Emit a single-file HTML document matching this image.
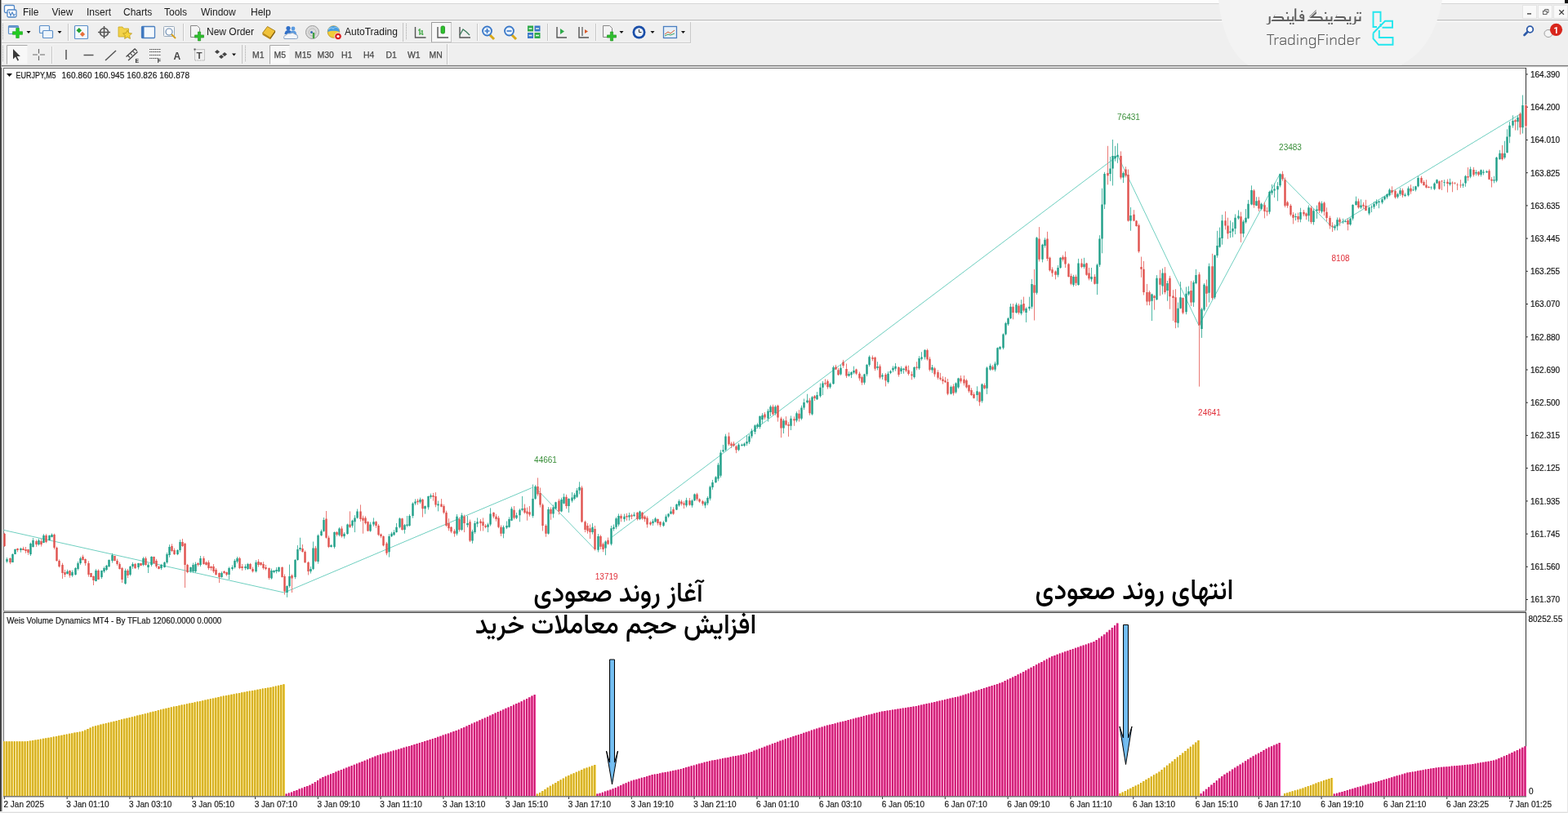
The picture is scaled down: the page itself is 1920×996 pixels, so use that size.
<!DOCTYPE html>
<html><head><meta charset="utf-8"><title>EURJPY,M5</title>
<style>
html,body{margin:0;padding:0;width:1920px;height:996px;overflow:hidden;background:#efefef}
svg{position:absolute;left:0;top:0;display:block}
.fa{position:absolute;font-family:Vazirmatn, 'DejaVu Sans', sans-serif;font-weight:520;color:#000;white-space:nowrap;direction:rtl;line-height:1}
</style></head><body>
<svg width="1920" height="996" viewBox="0 0 1920 996" font-family="'Liberation Sans', Arial, sans-serif">
<rect x="0" y="0" width="1920" height="4" fill="#fdfdfd"/>
<rect x="0" y="4" width="1920" height="1" fill="#d6d6d6"/>
<rect x="0" y="5" width="1920" height="19" fill="#efefef"/>
<rect x="0" y="24" width="1920" height="1" fill="#c3c3c3"/>
<rect x="0" y="25" width="1920" height="1" fill="#e6e6e6"/>
<rect x="0" y="26" width="1920" height="1" fill="#fbfbfb"/>
<rect x="0" y="27" width="1920" height="53" fill="#efefef"/>
<rect x="2" y="52" width="844" height="1" fill="#cbcbcb"/>
<rect x="2" y="53" width="844" height="1" fill="#fafafa"/>
<rect x="845" y="27" width="1" height="25" fill="#c9c9c9"/>
<rect x="547" y="54" width="1" height="25" fill="#c4c4c4"/>
<rect x="548" y="54" width="1" height="25" fill="#fafafa"/>
<rect x="493" y="28" width="1" height="23" fill="#c4c4c4"/>
<rect x="296" y="55" width="1" height="23" fill="#c4c4c4"/>
<rect x="3" y="29" width="1" height="1" fill="#a8a8a8"/>
<rect x="3" y="31" width="1" height="1" fill="#a8a8a8"/>
<rect x="3" y="33" width="1" height="1" fill="#a8a8a8"/>
<rect x="3" y="35" width="1" height="1" fill="#a8a8a8"/>
<rect x="3" y="37" width="1" height="1" fill="#a8a8a8"/>
<rect x="3" y="39" width="1" height="1" fill="#a8a8a8"/>
<rect x="3" y="41" width="1" height="1" fill="#a8a8a8"/>
<rect x="3" y="43" width="1" height="1" fill="#a8a8a8"/>
<rect x="3" y="45" width="1" height="1" fill="#a8a8a8"/>
<rect x="3" y="47" width="1" height="1" fill="#a8a8a8"/>
<rect x="497" y="29" width="1" height="1" fill="#a8a8a8"/>
<rect x="497" y="31" width="1" height="1" fill="#a8a8a8"/>
<rect x="497" y="33" width="1" height="1" fill="#a8a8a8"/>
<rect x="497" y="35" width="1" height="1" fill="#a8a8a8"/>
<rect x="497" y="37" width="1" height="1" fill="#a8a8a8"/>
<rect x="497" y="39" width="1" height="1" fill="#a8a8a8"/>
<rect x="497" y="41" width="1" height="1" fill="#a8a8a8"/>
<rect x="497" y="43" width="1" height="1" fill="#a8a8a8"/>
<rect x="497" y="45" width="1" height="1" fill="#a8a8a8"/>
<rect x="497" y="47" width="1" height="1" fill="#a8a8a8"/>
<rect x="3" y="56" width="1" height="1" fill="#a8a8a8"/>
<rect x="3" y="58" width="1" height="1" fill="#a8a8a8"/>
<rect x="3" y="60" width="1" height="1" fill="#a8a8a8"/>
<rect x="3" y="62" width="1" height="1" fill="#a8a8a8"/>
<rect x="3" y="64" width="1" height="1" fill="#a8a8a8"/>
<rect x="3" y="66" width="1" height="1" fill="#a8a8a8"/>
<rect x="3" y="68" width="1" height="1" fill="#a8a8a8"/>
<rect x="3" y="70" width="1" height="1" fill="#a8a8a8"/>
<rect x="3" y="72" width="1" height="1" fill="#a8a8a8"/>
<rect x="3" y="74" width="1" height="1" fill="#a8a8a8"/>
<rect x="300" y="56" width="1" height="1" fill="#a8a8a8"/>
<rect x="300" y="58" width="1" height="1" fill="#a8a8a8"/>
<rect x="300" y="60" width="1" height="1" fill="#a8a8a8"/>
<rect x="300" y="62" width="1" height="1" fill="#a8a8a8"/>
<rect x="300" y="64" width="1" height="1" fill="#a8a8a8"/>
<rect x="300" y="66" width="1" height="1" fill="#a8a8a8"/>
<rect x="300" y="68" width="1" height="1" fill="#a8a8a8"/>
<rect x="300" y="70" width="1" height="1" fill="#a8a8a8"/>
<rect x="300" y="72" width="1" height="1" fill="#a8a8a8"/>
<rect x="300" y="74" width="1" height="1" fill="#a8a8a8"/>
<rect x="0" y="79" width="1920" height="1" fill="#e4e4e4"/>
<rect x="0" y="80" width="1920" height="1" fill="#7c7c7c"/>
<rect x="0" y="81" width="1920" height="1" fill="#c4c4c4"/>
<rect x="0" y="82" width="1920" height="1" fill="#f6f6f6"/>
<rect x="0" y="0" width="1" height="996" fill="#2e2e2e"/>
<rect x="1" y="0" width="1" height="83" fill="#9a9a9a"/>
<rect x="1" y="83" width="1" height="913" fill="#6a6a6a"/>
<rect x="2" y="83" width="1" height="913" fill="#b4b4b4"/>
<rect x="3" y="83" width="1917" height="912" fill="#fff"/>
<rect x="4" y="83" width="1865" height="1" fill="#6a6a6a"/>
<rect x="4" y="83" width="1" height="893" fill="#6a6a6a"/>
<rect x="1868" y="83" width="1" height="893" fill="#333"/>
<rect x="4" y="748" width="1865" height="2" fill="#a2a2a2"/>
<rect x="4" y="750" width="1865" height="1" fill="#4e4e4e"/>
<rect x="4" y="975" width="1865" height="1" fill="#7a7a7a"/>
<rect x="4" y="976" width="1865" height="1" fill="#c8c8c8"/>
<rect x="0" y="994" width="1920" height="1" fill="#f2f2f2"/>
<rect x="0" y="995" width="1920" height="1" fill="#dedede"/>
<rect x="1919" y="83" width="1" height="913" fill="#e6e6e6"/>
<text x="28" y="18.7" font-size="12" fill="#1a1a1a">File</text>
<text x="63.5" y="18.7" font-size="12" fill="#1a1a1a">View</text>
<text x="106" y="18.7" font-size="12" fill="#1a1a1a">Insert</text>
<text x="151" y="18.7" font-size="12" fill="#1a1a1a">Charts</text>
<text x="201" y="18.7" font-size="12" fill="#1a1a1a">Tools</text>
<text x="246" y="18.7" font-size="12" fill="#1a1a1a">Window</text>
<text x="307" y="18.7" font-size="12" fill="#1a1a1a">Help</text>
<rect x="5.5" y="6.5" width="12" height="9" rx="1.5" fill="#fff" stroke="#4f86c6" stroke-width="1.3"/>
<rect x="9" y="12" width="11" height="9" rx="1.5" fill="#fff" stroke="#4f86c6" stroke-width="1.3"/>
<path d="M11 14 l2 5 l2 -4 l2 4 l1.5 -2" stroke="#4f86c6" stroke-width="1.2" fill="none"/>
<rect x="10.5" y="31.5" width="12" height="10" rx="1" fill="#eef5fc" stroke="#5b8fc9" stroke-width="1.2"/>
<rect x="11" y="32" width="11" height="2" fill="#6a9ad0"/>
<path d="M19.7 34.5 h3.6 v4.2 h4.2 v3.6 h-4.2 v4.2 h-3.6 v-4.2 h-4.2 v-3.6 h4.2 z" fill="#22cc22" stroke="#149a14" stroke-width="0.6"/>
<path d="M32.5 38.0 h5 l-2.5 3 z" fill="#111"/>
<rect x="48.5" y="31.5" width="12" height="9" rx="1" fill="#eef5fc" stroke="#5b8fc9" stroke-width="1.2"/>
<rect x="52.5" y="37.5" width="12" height="9" rx="1" fill="#eef5fc" stroke="#5b8fc9" stroke-width="1.2"/>
<path d="M70.5 38.0 h5 l-2.5 3 z" fill="#111"/>
<rect x="83" y="29" width="1" height="21" fill="#c6c6c6"/><rect x="84" y="29" width="1" height="21" fill="#fbfbfb"/>
<rect x="91.5" y="31.5" width="16" height="16" rx="1" fill="#f4f8fc" stroke="#5b8fc9" stroke-width="1.2"/>
<path d="M96.8 34 l3.3 3.3 l-3.3 3.3 l-3.3 -3.3 z" fill="#22a030"/>
<path d="M101 38.8 l3.1 3.1 l-3.1 3.1 l-3.1 -3.1 z" fill="#e8703a"/>
<circle cx="127.5" cy="39.5" r="5" fill="none" stroke="#555" stroke-width="1.6"/>
<path d="M127.5 32 v15 M120 39.5 h15" stroke="#555" stroke-width="1.6"/>
<path d="M145 33 h5 l1.5 2 h6 v10 h-12.5 z" fill="#f2d24a" stroke="#c9a81e" stroke-width="0.8"/>
<path d="M156 37 l1.7 3.5 l3.8 .5 l-2.8 2.6 l.7 3.8 l-3.4 -1.9 l-3.4 1.9 l.7 -3.8 l-2.8 -2.6 l3.8 -.5 z" fill="#f5d33a" stroke="#b8961a" stroke-width="0.8"/>
<rect x="173.5" y="32.5" width="16" height="14" rx="1" fill="#f4f8fc" stroke="#4a7fc0" stroke-width="1.3"/>
<rect x="173.5" y="32.5" width="3" height="14" fill="#3f78c0"/>
<rect x="200.5" y="32.5" width="13" height="12" rx="1" fill="#f6f8fa" stroke="#9aaabb" stroke-width="1"/>
<circle cx="207" cy="39" r="4" fill="#fff" stroke="#6a8ab0" stroke-width="1.2"/>
<path d="M210 42 l5 5" stroke="#d4a020" stroke-width="2"/>
<rect x="224" y="29" width="1" height="21" fill="#c6c6c6"/><rect x="225" y="29" width="1" height="21" fill="#fbfbfb"/>
<path d="M233.5 31.5 h8 l3 3 v11 h-11 z" fill="#f4f4f4" stroke="#888" stroke-width="1"/>
<path d="M242.4 39.0 h3.2 v3.9 h3.9 v3.2 h-3.9 v3.9 h-3.2 v-3.9 h-3.9 v-3.2 h3.9 z" fill="#2fbf2f" stroke="#1a8a1a" stroke-width="0.6"/>
<text x="253" y="43.3" font-size="12" fill="#1a1a1a">New Order</text>
<path d="M321.5 40.5 l6 -8 l9.5 5.5 l-6 8.5 z" fill="#f0c23a" stroke="#a07810" stroke-width="0.9"/>
<path d="M321.5 40.5 l9.5 5.5 v2.2 l-9.5 -5.5 z" fill="#b8881a"/><path d="M331 46 l6 -8.5 v2.2 l-6 8.5 z" fill="#8a6410"/>
<circle cx="353" cy="34.5" r="2.6" fill="#2f6fc8"/><path d="M348.5 42 q0 -5 4.5 -5 q4.5 0 4.5 5 z" fill="#2f6fc8"/>
<circle cx="359" cy="35" r="2.4" fill="#5a9ae0"/><path d="M355 42 q0 -4.5 4 -4.5 q4 0 4 4.5 z" fill="#5a9ae0"/>
<path d="M348 47.5 q-1.5 -4 2.5 -4.5 q1 -3 5 -2 q3 -2 6 1 q3.5 0 3 4 q0 1.5 -2 1.5 z" fill="#f4f6f9" stroke="#8aa4c4" stroke-width="1"/>
<circle cx="382.5" cy="39.5" r="8" fill="#dcdcdc" stroke="#9a9a9a" stroke-width="1"/>
<circle cx="382.5" cy="39.5" r="4.5" fill="none" stroke="#b8b8b8" stroke-width="1"/>
<path d="M384 40 v7" stroke="#40a040" stroke-width="2.4"/>
<circle cx="381.5" cy="39.5" r="1.5" fill="#3a6ab0"/>
<circle cx="408.5" cy="39" r="7.3" fill="#f0cc3a" stroke="#b89020" stroke-width="0.8"/>
<path d="M401.2 39 a7.3 7.3 0 0 1 14.6 0 q-7.3 -2.5 -14.6 0 z" fill="#4a9ee0"/>
<path d="M402 36 q3 -3 6 -1 q3 -3 7 0" stroke="#8cc8f0" stroke-width="1.2" fill="none"/>
<circle cx="414" cy="44.5" r="4.3" fill="#d82020" stroke="#fff" stroke-width="0.8"/><circle cx="414" cy="44.5" r="1.6" fill="#fff"/>
<text x="422" y="43.3" font-size="12" fill="#1a1a1a">AutoTrading</text>
<path d="M508.5 33 v13 h13" stroke="#555" stroke-width="1.4" fill="none"/>
<path d="M514 35 v8 M512 37 h2 M514 41 h2 M517 37 v6 M515.5 38 h1.5 M517 42 h1.5" stroke="#2aa030" stroke-width="1.2"/>
<rect x="528.5" y="27.5" width="24" height="24" fill="#f7f7f7" stroke="#c8c8c8" stroke-width="1"/>
<path d="M528.5 51.5 v-24 h24" stroke="#9a9a9a" stroke-width="1" fill="none"/>
<path d="M536 33 v13 h13" stroke="#555" stroke-width="1.4" fill="none"/>
<rect x="540" y="32" width="4.5" height="9" rx="1.5" fill="#2ec02e" stroke="#1a8a1a" stroke-width="0.8"/>
<path d="M563 33 v13 h13" stroke="#555" stroke-width="1.4" fill="none"/>
<path d="M563 43 l4 -7 l4 3 l4 4" stroke="#3a7a5a" stroke-width="1.3" fill="none"/>
<rect x="584" y="29" width="1" height="21" fill="#c6c6c6"/><rect x="585" y="29" width="1" height="21" fill="#fbfbfb"/>
<path d="M599.5 42.5 l5.5 5.5" stroke="#d8a818" stroke-width="3"/>
<circle cx="596.5" cy="38.0" r="5.5" fill="#e8f2fc" stroke="#3a78c8" stroke-width="1.8"/>
<path d="M593.5 38.0 h6 M596.5 35.0 v6" stroke="#3a78c8" stroke-width="1.6"/>
<path d="M626.5 42.5 l5.5 5.5" stroke="#d8a818" stroke-width="3"/>
<circle cx="623.5" cy="38.0" r="5.5" fill="#e8f2fc" stroke="#3a78c8" stroke-width="1.8"/>
<path d="M620.5 38.0 h6" stroke="#3a78c8" stroke-width="1.6"/>
<rect x="646" y="31.5" width="7" height="7" fill="#2eaa4a"/><rect x="654.5" y="31.5" width="7" height="7" fill="#3a78c8"/>
<rect x="646" y="40" width="7" height="7" fill="#3a78c8"/><rect x="654.5" y="40" width="7" height="7" fill="#2eaa4a"/>
<path d="M647.5 35 h4 M656 35 h4 M647.5 43.5 h4 M656 43.5 h4" stroke="#e8f4e8" stroke-width="1.4"/>
<rect x="670" y="29" width="1" height="21" fill="#c6c6c6"/><rect x="671" y="29" width="1" height="21" fill="#fbfbfb"/>
<path d="M682 33 v13 h12" stroke="#555" stroke-width="1.4" fill="none"/>
<path d="M686 35 l5 3.5 l-5 3.5 z" fill="#2eaa4a"/>
<path d="M709 33 v13 h12" stroke="#555" stroke-width="1.4" fill="none"/>
<path d="M713 33 v11" stroke="#555" stroke-width="1.2"/><path d="M716 36 l4 2.5 l-4 2.5 z" fill="#d85a2a"/>
<rect x="729" y="29" width="1" height="21" fill="#c6c6c6"/><rect x="730" y="29" width="1" height="21" fill="#fbfbfb"/>
<path d="M738.5 31.5 h8 l3 3 v11 h-11 z" fill="#f4f4f4" stroke="#888" stroke-width="1"/>
<path d="M747.4 39.0 h3.2 v3.9 h3.9 v3.2 h-3.9 v3.9 h-3.2 v-3.9 h-3.9 v-3.2 h3.9 z" fill="#2fbf2f" stroke="#1a8a1a" stroke-width="0.6"/>
<path d="M758.5 38.0 h5 l-2.5 3 z" fill="#111"/>
<circle cx="782.5" cy="39.5" r="8" fill="#1a4ea8"/><circle cx="782.5" cy="39.5" r="5.3" fill="#eef4fb"/>
<path d="M782.5 36 v3.5 h3" stroke="#333" stroke-width="1" fill="none"/>
<path d="M796.5 38.0 h5 l-2.5 3 z" fill="#111"/>
<rect x="812.5" y="32.5" width="16" height="14" fill="#e8f0f8" stroke="#4a7fc0" stroke-width="1.3"/>
<path d="M814 42 l4 -3 l3 2 l5 -4" stroke="#d85a2a" stroke-width="1" fill="none"/><path d="M814 44 l4 -2 l3 1 l5 -2" stroke="#3aa05a" stroke-width="1" fill="none"/>
<path d="M834.0 38.0 h5 l-2.5 3 z" fill="#111"/>
<rect x="8.5" y="55.5" width="25" height="23" fill="#f8f8f8"/>
<path d="M8.5 78.5 v-23 h25" stroke="#a8a8a8" stroke-width="1" fill="none"/>
<path d="M16 60 v12.5 l3 -3 l2.5 5 l1.6 -.8 l-2.4 -4.8 h4.2 z" fill="#3a3a3a"/>
<path d="M47.5 60 v14 M40 67 h15" stroke="#6a6a6a" stroke-width="1.2"/>
<rect x="46" y="65.5" width="3" height="3" fill="#efefef"/>
<rect x="63" y="57" width="1" height="21" fill="#c6c6c6"/><rect x="64" y="57" width="1" height="21" fill="#fbfbfb"/>
<path d="M81 61 v12" stroke="#555" stroke-width="1.5"/>
<path d="M102.5 67.5 h12" stroke="#555" stroke-width="1.5"/>
<path d="M129 74 l13 -12" stroke="#555" stroke-width="1.5"/>
<path d="M154.5 69.5 l11 -10 M157 74 l11.5 -10.5" stroke="#444" stroke-width="1.3"/>
<path d="M156.5 68 l2.5 2.5 M159.5 65.3 l2.5 2.5 M162.5 62.6 l2.5 2.5 M165.2 60 l2.5 2.5" stroke="#444" stroke-width="1.1"/>
<text x="165.6" y="76.8" font-size="6.8" font-weight="bold" fill="#333">E</text>
<path d="M183 60.5 h14 M183 63.5 h14 M183 67.5 h14 M183 71.5 h11" stroke="#555" stroke-width="1" stroke-dasharray="1.2 .5"/>
<text x="192.8" y="76.6" font-size="6.8" font-weight="bold" fill="#333">F</text>
<text x="212.5" y="72.5" font-size="12" font-weight="bold" fill="#444">A</text>
<rect x="238.5" y="60.5" width="12" height="13.5" fill="none" stroke="#999" stroke-width="1" stroke-dasharray="1 1"/>
<rect x="237.5" y="59.5" width="2" height="2" fill="#555"/>
<text x="240.6" y="72" font-size="11.5" font-weight="bold" fill="#4a4a4a">T</text>
<path d="M266 61 l3 2.5 l-3 2.5 l-3 -2.5 z M271 67 l3 2.5 l-3 2.5 l-3 -2.5 z M275 64 l3 2.5 l-3 2.5 l-3 -2.5 z" fill="#444"/>
<path d="M284.0 65.5 h5 l-2.5 3 z" fill="#111"/>
<rect x="330.5" y="55.5" width="24" height="23" fill="#f8f8f8"/>
<path d="M330.5 78.5 v-23 h24" stroke="#a8a8a8" stroke-width="1" fill="none"/>
<text x="309" y="71.3" font-size="10.4" fill="#4a4a4a" stroke="#4a4a4a" stroke-width="0.25">M1</text>
<text x="335.5" y="71.3" font-size="10.4" fill="#4a4a4a" stroke="#4a4a4a" stroke-width="0.25">M5</text>
<text x="361" y="71.3" font-size="10.4" fill="#4a4a4a" stroke="#4a4a4a" stroke-width="0.25">M15</text>
<text x="388.5" y="71.3" font-size="10.4" fill="#4a4a4a" stroke="#4a4a4a" stroke-width="0.25">M30</text>
<text x="418" y="71.3" font-size="10.4" fill="#4a4a4a" stroke="#4a4a4a" stroke-width="0.25">H1</text>
<text x="445" y="71.3" font-size="10.4" fill="#4a4a4a" stroke="#4a4a4a" stroke-width="0.25">H4</text>
<text x="472.5" y="71.3" font-size="10.4" fill="#4a4a4a" stroke="#4a4a4a" stroke-width="0.25">D1</text>
<text x="499" y="71.3" font-size="10.4" fill="#4a4a4a" stroke="#4a4a4a" stroke-width="0.25">W1</text>
<text x="525.5" y="71.3" font-size="10.4" fill="#4a4a4a" stroke="#4a4a4a" stroke-width="0.25">MN</text>
<path d="M1492 0 L1766 0 C1760 32 1748 62 1716 79.5 L1528 79.5 C1507 66 1496 36 1492 0 Z" fill="#f3f3f3"/>
<text x="1550.5" y="54.8" font-size="17.5" fill="#5a5a5a" font-family="'Chakra Petch', 'Liberation Sans', sans-serif" font-weight="300" textLength="115.5" lengthAdjust="spacingAndGlyphs">TradingFinder</text>
<g fill="none" stroke="#22e6ee" stroke-width="1.9" stroke-linejoin="miter"><path d="M1690.5 27 V14.8 H1681.5 V33 H1686"/><path d="M1690.5 33 V29"/><path d="M1681.5 40.5 L1696 25.8 H1705 V33.8 H1692.5"/><path d="M1681.5 40.5 V47.5 L1688 54.8 H1705.5 V46 H1688.8 V37"/></g>
<rect x="1864.5" y="6.5" width="17" height="16" fill="#f9f9f9" stroke="#e4e4e4" stroke-width="1"/>
<rect x="1883.5" y="6.5" width="17" height="16" fill="#f9f9f9" stroke="#e4e4e4" stroke-width="1"/>
<rect x="1902.5" y="6.5" width="17" height="16" fill="#f9f9f9" stroke="#e4e4e4" stroke-width="1"/>
<rect x="1870" y="16.2" width="5" height="1.4" fill="#444"/>
<rect x="1889.5" y="13.5" width="4.5" height="4" fill="none" stroke="#555" stroke-width="0.9"/>
<path d="M1891.5 13 v-1.5 h4.5 v4 h-2" fill="none" stroke="#555" stroke-width="0.9"/>
<path d="M1909.3 12.3 l5.6 5.6 M1914.9 12.3 l-5.6 5.6" stroke="#404040" stroke-width="1.3"/>
<rect x="1916" y="0" width="4" height="4" fill="#111"/>
<circle cx="1873.5" cy="36" r="3.8" fill="#fff" stroke="#2d5aa8" stroke-width="1.8"/>
<path d="M1870.5 39 l-4 4" stroke="#2d5aa8" stroke-width="2.6" stroke-linecap="round"/>
<ellipse cx="1896" cy="41" rx="5" ry="4.5" fill="#f4f4f4" stroke="#a0a0a0" stroke-width="1"/>
<circle cx="1905.5" cy="36.3" r="7.6" fill="#d8261c"/>
<text x="1905.5" y="40.6" font-size="11" font-weight="bold" fill="#fff" text-anchor="middle" font-family="Roboto, 'Open Sans', 'Liberation Sans', sans-serif">1</text>
<rect x="1869" y="90.5" width="2" height="1" fill="#333"/>
<text x="1874" y="94.8" font-size="10" fill="#161616" stroke="#161616" stroke-width="0.18">164.390</text>
<rect x="1869" y="130.7" width="2" height="1" fill="#333"/>
<text x="1874" y="135.0" font-size="10" fill="#161616" stroke="#161616" stroke-width="0.18">164.200</text>
<rect x="1869" y="170.9" width="2" height="1" fill="#333"/>
<text x="1874" y="175.2" font-size="10" fill="#161616" stroke="#161616" stroke-width="0.18">164.010</text>
<rect x="1869" y="211.2" width="2" height="1" fill="#333"/>
<text x="1874" y="215.5" font-size="10" fill="#161616" stroke="#161616" stroke-width="0.18">163.825</text>
<rect x="1869" y="251.4" width="2" height="1" fill="#333"/>
<text x="1874" y="255.7" font-size="10" fill="#161616" stroke="#161616" stroke-width="0.18">163.635</text>
<rect x="1869" y="291.6" width="2" height="1" fill="#333"/>
<text x="1874" y="295.9" font-size="10" fill="#161616" stroke="#161616" stroke-width="0.18">163.445</text>
<rect x="1869" y="331.8" width="2" height="1" fill="#333"/>
<text x="1874" y="336.1" font-size="10" fill="#161616" stroke="#161616" stroke-width="0.18">163.255</text>
<rect x="1869" y="372.0" width="2" height="1" fill="#333"/>
<text x="1874" y="376.3" font-size="10" fill="#161616" stroke="#161616" stroke-width="0.18">163.070</text>
<rect x="1869" y="412.3" width="2" height="1" fill="#333"/>
<text x="1874" y="416.6" font-size="10" fill="#161616" stroke="#161616" stroke-width="0.18">162.880</text>
<rect x="1869" y="452.5" width="2" height="1" fill="#333"/>
<text x="1874" y="456.8" font-size="10" fill="#161616" stroke="#161616" stroke-width="0.18">162.690</text>
<rect x="1869" y="492.7" width="2" height="1" fill="#333"/>
<text x="1874" y="497.0" font-size="10" fill="#161616" stroke="#161616" stroke-width="0.18">162.500</text>
<rect x="1869" y="532.9" width="2" height="1" fill="#333"/>
<text x="1874" y="537.2" font-size="10" fill="#161616" stroke="#161616" stroke-width="0.18">162.315</text>
<rect x="1869" y="573.1" width="2" height="1" fill="#333"/>
<text x="1874" y="577.4" font-size="10" fill="#161616" stroke="#161616" stroke-width="0.18">162.125</text>
<rect x="1869" y="613.4" width="2" height="1" fill="#333"/>
<text x="1874" y="617.7" font-size="10" fill="#161616" stroke="#161616" stroke-width="0.18">161.935</text>
<rect x="1869" y="653.6" width="2" height="1" fill="#333"/>
<text x="1874" y="657.9" font-size="10" fill="#161616" stroke="#161616" stroke-width="0.18">161.745</text>
<rect x="1869" y="693.8" width="2" height="1" fill="#333"/>
<text x="1874" y="698.1" font-size="10" fill="#161616" stroke="#161616" stroke-width="0.18">161.560</text>
<rect x="1869" y="734.0" width="2" height="1" fill="#333"/>
<text x="1874" y="738.3" font-size="10" fill="#161616" stroke="#161616" stroke-width="0.18">161.370</text>
<text x="1871.5" y="762.2" font-size="10" fill="#161616" stroke="#161616" stroke-width="0.18">80252.55</text>
<text x="1872" y="973" font-size="10" fill="#161616" stroke="#161616" stroke-width="0.18">0</text>
<rect x="4.8" y="976" width="1" height="3" fill="#333"/>
<text x="4.5" y="988.6" font-size="10" fill="#1a1a1a" stroke="#1a1a1a" stroke-width="0.18">2 Jan 2025</text>
<rect x="81.6" y="976" width="1" height="3" fill="#333"/>
<text x="81.3" y="988.6" font-size="10" fill="#1a1a1a" stroke="#1a1a1a" stroke-width="0.18">3 Jan 01:10</text>
<rect x="158.4" y="976" width="1" height="3" fill="#333"/>
<text x="158.1" y="988.6" font-size="10" fill="#1a1a1a" stroke="#1a1a1a" stroke-width="0.18">3 Jan 03:10</text>
<rect x="235.2" y="976" width="1" height="3" fill="#333"/>
<text x="234.9" y="988.6" font-size="10" fill="#1a1a1a" stroke="#1a1a1a" stroke-width="0.18">3 Jan 05:10</text>
<rect x="312.0" y="976" width="1" height="3" fill="#333"/>
<text x="311.7" y="988.6" font-size="10" fill="#1a1a1a" stroke="#1a1a1a" stroke-width="0.18">3 Jan 07:10</text>
<rect x="388.8" y="976" width="1" height="3" fill="#333"/>
<text x="388.5" y="988.6" font-size="10" fill="#1a1a1a" stroke="#1a1a1a" stroke-width="0.18">3 Jan 09:10</text>
<rect x="465.6" y="976" width="1" height="3" fill="#333"/>
<text x="465.3" y="988.6" font-size="10" fill="#1a1a1a" stroke="#1a1a1a" stroke-width="0.18">3 Jan 11:10</text>
<rect x="542.4" y="976" width="1" height="3" fill="#333"/>
<text x="542.1" y="988.6" font-size="10" fill="#1a1a1a" stroke="#1a1a1a" stroke-width="0.18">3 Jan 13:10</text>
<rect x="619.2" y="976" width="1" height="3" fill="#333"/>
<text x="618.9" y="988.6" font-size="10" fill="#1a1a1a" stroke="#1a1a1a" stroke-width="0.18">3 Jan 15:10</text>
<rect x="696.0" y="976" width="1" height="3" fill="#333"/>
<text x="695.7" y="988.6" font-size="10" fill="#1a1a1a" stroke="#1a1a1a" stroke-width="0.18">3 Jan 17:10</text>
<rect x="772.8" y="976" width="1" height="3" fill="#333"/>
<text x="772.5" y="988.6" font-size="10" fill="#1a1a1a" stroke="#1a1a1a" stroke-width="0.18">3 Jan 19:10</text>
<rect x="849.6" y="976" width="1" height="3" fill="#333"/>
<text x="849.3" y="988.6" font-size="10" fill="#1a1a1a" stroke="#1a1a1a" stroke-width="0.18">3 Jan 21:10</text>
<rect x="926.4" y="976" width="1" height="3" fill="#333"/>
<text x="926.1" y="988.6" font-size="10" fill="#1a1a1a" stroke="#1a1a1a" stroke-width="0.18">6 Jan 01:10</text>
<rect x="1003.2" y="976" width="1" height="3" fill="#333"/>
<text x="1002.9" y="988.6" font-size="10" fill="#1a1a1a" stroke="#1a1a1a" stroke-width="0.18">6 Jan 03:10</text>
<rect x="1080.0" y="976" width="1" height="3" fill="#333"/>
<text x="1079.7" y="988.6" font-size="10" fill="#1a1a1a" stroke="#1a1a1a" stroke-width="0.18">6 Jan 05:10</text>
<rect x="1156.8" y="976" width="1" height="3" fill="#333"/>
<text x="1156.5" y="988.6" font-size="10" fill="#1a1a1a" stroke="#1a1a1a" stroke-width="0.18">6 Jan 07:10</text>
<rect x="1233.6" y="976" width="1" height="3" fill="#333"/>
<text x="1233.3" y="988.6" font-size="10" fill="#1a1a1a" stroke="#1a1a1a" stroke-width="0.18">6 Jan 09:10</text>
<rect x="1310.4" y="976" width="1" height="3" fill="#333"/>
<text x="1310.1" y="988.6" font-size="10" fill="#1a1a1a" stroke="#1a1a1a" stroke-width="0.18">6 Jan 11:10</text>
<rect x="1387.2" y="976" width="1" height="3" fill="#333"/>
<text x="1386.9" y="988.6" font-size="10" fill="#1a1a1a" stroke="#1a1a1a" stroke-width="0.18">6 Jan 13:10</text>
<rect x="1464.0" y="976" width="1" height="3" fill="#333"/>
<text x="1463.7" y="988.6" font-size="10" fill="#1a1a1a" stroke="#1a1a1a" stroke-width="0.18">6 Jan 15:10</text>
<rect x="1540.8" y="976" width="1" height="3" fill="#333"/>
<text x="1540.5" y="988.6" font-size="10" fill="#1a1a1a" stroke="#1a1a1a" stroke-width="0.18">6 Jan 17:10</text>
<rect x="1617.6" y="976" width="1" height="3" fill="#333"/>
<text x="1617.3" y="988.6" font-size="10" fill="#1a1a1a" stroke="#1a1a1a" stroke-width="0.18">6 Jan 19:10</text>
<rect x="1694.4" y="976" width="1" height="3" fill="#333"/>
<text x="1694.1" y="988.6" font-size="10" fill="#1a1a1a" stroke="#1a1a1a" stroke-width="0.18">6 Jan 21:10</text>
<rect x="1771.2" y="976" width="1" height="3" fill="#333"/>
<text x="1770.9" y="988.6" font-size="10" fill="#1a1a1a" stroke="#1a1a1a" stroke-width="0.18">6 Jan 23:25</text>
<rect x="1848.0" y="976" width="1" height="3" fill="#333"/>
<text x="1847.7" y="988.6" font-size="10" fill="#1a1a1a" stroke="#1a1a1a" stroke-width="0.18">7 Jan 01:25</text>
<path d="M8 90 h7 l-3.5 4 z" fill="#111"/>
<text x="19.6" y="95.5" font-size="10" fill="#161616" stroke="#161616" stroke-width="0.18" textLength="49" lengthAdjust="spacingAndGlyphs">EURJPY,M5</text>
<text x="75.6" y="95.5" font-size="10" fill="#161616" stroke="#161616" stroke-width="0.18" textLength="156.5" lengthAdjust="spacing">160.860 160.945 160.826 160.878</text>
<text x="8.3" y="763.5" font-size="10" fill="#161616" stroke="#161616" stroke-width="0.18" textLength="263" lengthAdjust="spacingAndGlyphs">Weis Volume Dynamics MT4 - By TFLab 12060.0000 0.0000</text>
<path d="M4.05 908.3h2.5v67.0h-2.5zM7.25 908.3h2.5v67.0h-2.5zM10.45 908.3h2.5v67.0h-2.5zM13.65 908.3h2.5v67.0h-2.5zM16.85 908.3h2.5v67.0h-2.5zM20.05 908.3h2.5v67.0h-2.5zM23.25 908.3h2.5v67.0h-2.5zM26.45 908.3h2.5v67.0h-2.5zM29.65 908.3h2.5v67.0h-2.5zM32.85 908.1h2.5v67.2h-2.5zM36.05 907.6h2.5v67.7h-2.5zM39.25 907.0h2.5v68.3h-2.5zM42.45 906.5h2.5v68.8h-2.5zM45.65 905.9h2.5v69.4h-2.5zM48.85 905.4h2.5v69.9h-2.5zM52.05 904.8h2.5v70.5h-2.5zM55.25 904.3h2.5v71.0h-2.5zM58.45 903.7h2.5v71.6h-2.5zM61.65 903.2h2.5v72.1h-2.5zM64.85 902.6h2.5v72.7h-2.5zM68.05 902.0h2.5v73.3h-2.5zM71.25 901.3h2.5v74.0h-2.5zM74.45 900.7h2.5v74.6h-2.5zM77.65 900.1h2.5v75.2h-2.5zM80.85 899.5h2.5v75.8h-2.5zM84.05 898.8h2.5v76.5h-2.5zM87.25 898.2h2.5v77.1h-2.5zM90.45 897.6h2.5v77.7h-2.5zM93.65 897.0h2.5v78.3h-2.5zM96.85 896.4h2.5v78.9h-2.5zM100.05 895.7h2.5v79.6h-2.5zM103.25 894.6h2.5v80.7h-2.5zM106.45 893.0h2.5v82.3h-2.5zM109.65 891.4h2.5v83.9h-2.5zM112.85 890.0h2.5v85.3h-2.5zM116.05 889.2h2.5v86.1h-2.5zM119.25 888.4h2.5v86.9h-2.5zM122.45 887.6h2.5v87.7h-2.5zM125.65 886.8h2.5v88.5h-2.5zM128.85 886.1h2.5v89.2h-2.5zM132.05 885.3h2.5v90.0h-2.5zM135.25 884.5h2.5v90.8h-2.5zM138.45 883.7h2.5v91.6h-2.5zM141.65 882.9h2.5v92.4h-2.5zM144.85 882.1h2.5v93.2h-2.5zM148.05 881.3h2.5v94.0h-2.5zM151.25 880.5h2.5v94.8h-2.5zM154.45 879.7h2.5v95.6h-2.5zM157.65 878.9h2.5v96.4h-2.5zM160.85 878.2h2.5v97.1h-2.5zM164.05 877.4h2.5v97.9h-2.5zM167.25 876.6h2.5v98.7h-2.5zM170.45 875.8h2.5v99.5h-2.5zM173.65 875.0h2.5v100.3h-2.5zM176.85 874.2h2.5v101.1h-2.5zM180.05 873.4h2.5v101.9h-2.5zM183.25 872.6h2.5v102.7h-2.5zM186.45 871.8h2.5v103.5h-2.5zM189.65 870.9h2.5v104.4h-2.5zM192.85 870.1h2.5v105.2h-2.5zM196.05 869.3h2.5v106.0h-2.5zM199.25 868.5h2.5v106.8h-2.5zM202.45 867.7h2.5v107.6h-2.5zM205.65 866.9h2.5v108.4h-2.5zM208.85 866.2h2.5v109.1h-2.5zM212.05 865.6h2.5v109.7h-2.5zM215.25 864.9h2.5v110.4h-2.5zM218.45 864.3h2.5v111.0h-2.5zM221.65 863.6h2.5v111.7h-2.5zM224.85 862.9h2.5v112.4h-2.5zM228.05 862.3h2.5v113.0h-2.5zM231.25 861.6h2.5v113.7h-2.5zM234.45 860.9h2.5v114.4h-2.5zM237.65 860.3h2.5v115.0h-2.5zM240.85 859.6h2.5v115.7h-2.5zM244.05 858.9h2.5v116.4h-2.5zM247.25 858.2h2.5v117.1h-2.5zM250.45 857.5h2.5v117.8h-2.5zM253.65 856.8h2.5v118.5h-2.5zM256.85 856.1h2.5v119.2h-2.5zM260.05 855.4h2.5v119.9h-2.5zM263.25 854.7h2.5v120.6h-2.5zM266.45 854.0h2.5v121.3h-2.5zM269.65 853.3h2.5v122.0h-2.5zM272.85 852.6h2.5v122.7h-2.5zM276.05 852.0h2.5v123.3h-2.5zM279.25 851.4h2.5v123.9h-2.5zM282.45 850.8h2.5v124.5h-2.5zM285.65 850.2h2.5v125.1h-2.5zM288.85 849.5h2.5v125.8h-2.5zM292.05 848.9h2.5v126.4h-2.5zM295.25 848.3h2.5v127.0h-2.5zM298.45 847.7h2.5v127.6h-2.5zM301.65 847.1h2.5v128.2h-2.5zM304.85 846.5h2.5v128.8h-2.5zM308.05 846.0h2.5v129.3h-2.5zM311.25 845.4h2.5v129.9h-2.5zM314.45 844.8h2.5v130.5h-2.5zM317.65 844.2h2.5v131.1h-2.5zM320.85 843.6h2.5v131.7h-2.5zM324.05 843.1h2.5v132.2h-2.5zM327.25 842.5h2.5v132.8h-2.5zM330.45 841.9h2.5v133.4h-2.5zM333.65 841.3h2.5v134.0h-2.5zM336.85 840.5h2.5v134.8h-2.5zM340.05 839.8h2.5v135.5h-2.5zM343.25 839.1h2.5v136.2h-2.5zM346.45 838.3h2.5v137.0h-2.5zM656.85 972.5h2.5v2.8h-2.5zM660.05 971.0h2.5v4.3h-2.5zM663.25 968.9h2.5v6.4h-2.5zM666.45 966.9h2.5v8.4h-2.5zM669.65 964.8h2.5v10.5h-2.5zM672.85 962.8h2.5v12.5h-2.5zM676.05 960.8h2.5v14.5h-2.5zM679.25 958.9h2.5v16.4h-2.5zM682.45 957.1h2.5v18.2h-2.5zM685.65 955.3h2.5v20.0h-2.5zM688.85 953.4h2.5v21.9h-2.5zM692.05 951.6h2.5v23.7h-2.5zM695.25 950.0h2.5v25.3h-2.5zM698.45 948.6h2.5v26.7h-2.5zM701.65 947.2h2.5v28.1h-2.5zM704.85 945.8h2.5v29.5h-2.5zM708.05 944.4h2.5v30.9h-2.5zM711.25 943.0h2.5v32.3h-2.5zM714.45 941.6h2.5v33.7h-2.5zM717.65 940.5h2.5v34.8h-2.5zM720.85 939.4h2.5v35.9h-2.5zM724.05 938.3h2.5v37.0h-2.5zM727.25 937.1h2.5v38.2h-2.5zM1370.45 972.1h2.5v3.2h-2.5zM1373.65 970.5h2.5v4.8h-2.5zM1376.85 968.9h2.5v6.4h-2.5zM1380.05 967.3h2.5v8.0h-2.5zM1383.25 965.7h2.5v9.6h-2.5zM1386.45 964.1h2.5v11.2h-2.5zM1389.65 962.5h2.5v12.8h-2.5zM1392.85 960.9h2.5v14.4h-2.5zM1396.05 958.9h2.5v16.4h-2.5zM1399.25 957.0h2.5v18.3h-2.5zM1402.45 955.1h2.5v20.2h-2.5zM1405.65 953.2h2.5v22.1h-2.5zM1408.85 951.2h2.5v24.1h-2.5zM1412.05 949.3h2.5v26.0h-2.5zM1415.25 947.4h2.5v27.9h-2.5zM1418.45 945.4h2.5v29.9h-2.5zM1421.65 942.9h2.5v32.4h-2.5zM1424.85 940.3h2.5v35.0h-2.5zM1428.05 937.8h2.5v37.5h-2.5zM1431.25 935.2h2.5v40.1h-2.5zM1434.45 932.7h2.5v42.6h-2.5zM1437.65 930.1h2.5v45.2h-2.5zM1440.85 927.6h2.5v47.7h-2.5zM1444.05 925.0h2.5v50.3h-2.5zM1447.25 922.4h2.5v52.9h-2.5zM1450.45 919.9h2.5v55.4h-2.5zM1453.65 917.3h2.5v58.0h-2.5zM1456.85 914.7h2.5v60.6h-2.5zM1460.05 912.2h2.5v63.1h-2.5zM1463.25 909.6h2.5v65.7h-2.5zM1466.45 907.1h2.5v68.2h-2.5zM1572.05 972.1h2.5v3.2h-2.5zM1575.25 971.2h2.5v4.1h-2.5zM1578.45 970.2h2.5v5.1h-2.5zM1581.65 969.3h2.5v6.0h-2.5zM1584.85 968.3h2.5v7.0h-2.5zM1588.05 967.4h2.5v7.9h-2.5zM1591.25 966.4h2.5v8.9h-2.5zM1594.45 965.4h2.5v9.9h-2.5zM1597.65 964.2h2.5v11.1h-2.5zM1600.85 963.0h2.5v12.3h-2.5zM1604.05 961.9h2.5v13.4h-2.5zM1607.25 960.7h2.5v14.6h-2.5zM1610.45 959.5h2.5v15.8h-2.5zM1613.65 958.3h2.5v17.0h-2.5zM1616.85 957.2h2.5v18.1h-2.5zM1620.05 956.1h2.5v19.2h-2.5zM1623.25 955.1h2.5v20.2h-2.5zM1626.45 954.0h2.5v21.3h-2.5zM1629.65 952.9h2.5v22.4h-2.5z" fill="#f2cf44"/>
<path d="M4.05 908.3h1.3v67.0h-1.3zM7.25 908.3h1.3v67.0h-1.3zM10.45 908.3h1.3v67.0h-1.3zM13.65 908.3h1.3v67.0h-1.3zM16.85 908.3h1.3v67.0h-1.3zM20.05 908.3h1.3v67.0h-1.3zM23.25 908.3h1.3v67.0h-1.3zM26.45 908.3h1.3v67.0h-1.3zM29.65 908.3h1.3v67.0h-1.3zM32.85 908.1h1.3v67.2h-1.3zM36.05 907.6h1.3v67.7h-1.3zM39.25 907.0h1.3v68.3h-1.3zM42.45 906.5h1.3v68.8h-1.3zM45.65 905.9h1.3v69.4h-1.3zM48.85 905.4h1.3v69.9h-1.3zM52.05 904.8h1.3v70.5h-1.3zM55.25 904.3h1.3v71.0h-1.3zM58.45 903.7h1.3v71.6h-1.3zM61.65 903.2h1.3v72.1h-1.3zM64.85 902.6h1.3v72.7h-1.3zM68.05 902.0h1.3v73.3h-1.3zM71.25 901.3h1.3v74.0h-1.3zM74.45 900.7h1.3v74.6h-1.3zM77.65 900.1h1.3v75.2h-1.3zM80.85 899.5h1.3v75.8h-1.3zM84.05 898.8h1.3v76.5h-1.3zM87.25 898.2h1.3v77.1h-1.3zM90.45 897.6h1.3v77.7h-1.3zM93.65 897.0h1.3v78.3h-1.3zM96.85 896.4h1.3v78.9h-1.3zM100.05 895.7h1.3v79.6h-1.3zM103.25 894.6h1.3v80.7h-1.3zM106.45 893.0h1.3v82.3h-1.3zM109.65 891.4h1.3v83.9h-1.3zM112.85 890.0h1.3v85.3h-1.3zM116.05 889.2h1.3v86.1h-1.3zM119.25 888.4h1.3v86.9h-1.3zM122.45 887.6h1.3v87.7h-1.3zM125.65 886.8h1.3v88.5h-1.3zM128.85 886.1h1.3v89.2h-1.3zM132.05 885.3h1.3v90.0h-1.3zM135.25 884.5h1.3v90.8h-1.3zM138.45 883.7h1.3v91.6h-1.3zM141.65 882.9h1.3v92.4h-1.3zM144.85 882.1h1.3v93.2h-1.3zM148.05 881.3h1.3v94.0h-1.3zM151.25 880.5h1.3v94.8h-1.3zM154.45 879.7h1.3v95.6h-1.3zM157.65 878.9h1.3v96.4h-1.3zM160.85 878.2h1.3v97.1h-1.3zM164.05 877.4h1.3v97.9h-1.3zM167.25 876.6h1.3v98.7h-1.3zM170.45 875.8h1.3v99.5h-1.3zM173.65 875.0h1.3v100.3h-1.3zM176.85 874.2h1.3v101.1h-1.3zM180.05 873.4h1.3v101.9h-1.3zM183.25 872.6h1.3v102.7h-1.3zM186.45 871.8h1.3v103.5h-1.3zM189.65 870.9h1.3v104.4h-1.3zM192.85 870.1h1.3v105.2h-1.3zM196.05 869.3h1.3v106.0h-1.3zM199.25 868.5h1.3v106.8h-1.3zM202.45 867.7h1.3v107.6h-1.3zM205.65 866.9h1.3v108.4h-1.3zM208.85 866.2h1.3v109.1h-1.3zM212.05 865.6h1.3v109.7h-1.3zM215.25 864.9h1.3v110.4h-1.3zM218.45 864.3h1.3v111.0h-1.3zM221.65 863.6h1.3v111.7h-1.3zM224.85 862.9h1.3v112.4h-1.3zM228.05 862.3h1.3v113.0h-1.3zM231.25 861.6h1.3v113.7h-1.3zM234.45 860.9h1.3v114.4h-1.3zM237.65 860.3h1.3v115.0h-1.3zM240.85 859.6h1.3v115.7h-1.3zM244.05 858.9h1.3v116.4h-1.3zM247.25 858.2h1.3v117.1h-1.3zM250.45 857.5h1.3v117.8h-1.3zM253.65 856.8h1.3v118.5h-1.3zM256.85 856.1h1.3v119.2h-1.3zM260.05 855.4h1.3v119.9h-1.3zM263.25 854.7h1.3v120.6h-1.3zM266.45 854.0h1.3v121.3h-1.3zM269.65 853.3h1.3v122.0h-1.3zM272.85 852.6h1.3v122.7h-1.3zM276.05 852.0h1.3v123.3h-1.3zM279.25 851.4h1.3v123.9h-1.3zM282.45 850.8h1.3v124.5h-1.3zM285.65 850.2h1.3v125.1h-1.3zM288.85 849.5h1.3v125.8h-1.3zM292.05 848.9h1.3v126.4h-1.3zM295.25 848.3h1.3v127.0h-1.3zM298.45 847.7h1.3v127.6h-1.3zM301.65 847.1h1.3v128.2h-1.3zM304.85 846.5h1.3v128.8h-1.3zM308.05 846.0h1.3v129.3h-1.3zM311.25 845.4h1.3v129.9h-1.3zM314.45 844.8h1.3v130.5h-1.3zM317.65 844.2h1.3v131.1h-1.3zM320.85 843.6h1.3v131.7h-1.3zM324.05 843.1h1.3v132.2h-1.3zM327.25 842.5h1.3v132.8h-1.3zM330.45 841.9h1.3v133.4h-1.3zM333.65 841.3h1.3v134.0h-1.3zM336.85 840.5h1.3v134.8h-1.3zM340.05 839.8h1.3v135.5h-1.3zM343.25 839.1h1.3v136.2h-1.3zM346.45 838.3h1.3v137.0h-1.3zM656.85 972.5h1.3v2.8h-1.3zM660.05 971.0h1.3v4.3h-1.3zM663.25 968.9h1.3v6.4h-1.3zM666.45 966.9h1.3v8.4h-1.3zM669.65 964.8h1.3v10.5h-1.3zM672.85 962.8h1.3v12.5h-1.3zM676.05 960.8h1.3v14.5h-1.3zM679.25 958.9h1.3v16.4h-1.3zM682.45 957.1h1.3v18.2h-1.3zM685.65 955.3h1.3v20.0h-1.3zM688.85 953.4h1.3v21.9h-1.3zM692.05 951.6h1.3v23.7h-1.3zM695.25 950.0h1.3v25.3h-1.3zM698.45 948.6h1.3v26.7h-1.3zM701.65 947.2h1.3v28.1h-1.3zM704.85 945.8h1.3v29.5h-1.3zM708.05 944.4h1.3v30.9h-1.3zM711.25 943.0h1.3v32.3h-1.3zM714.45 941.6h1.3v33.7h-1.3zM717.65 940.5h1.3v34.8h-1.3zM720.85 939.4h1.3v35.9h-1.3zM724.05 938.3h1.3v37.0h-1.3zM727.25 937.1h1.3v38.2h-1.3zM1370.45 972.1h1.3v3.2h-1.3zM1373.65 970.5h1.3v4.8h-1.3zM1376.85 968.9h1.3v6.4h-1.3zM1380.05 967.3h1.3v8.0h-1.3zM1383.25 965.7h1.3v9.6h-1.3zM1386.45 964.1h1.3v11.2h-1.3zM1389.65 962.5h1.3v12.8h-1.3zM1392.85 960.9h1.3v14.4h-1.3zM1396.05 958.9h1.3v16.4h-1.3zM1399.25 957.0h1.3v18.3h-1.3zM1402.45 955.1h1.3v20.2h-1.3zM1405.65 953.2h1.3v22.1h-1.3zM1408.85 951.2h1.3v24.1h-1.3zM1412.05 949.3h1.3v26.0h-1.3zM1415.25 947.4h1.3v27.9h-1.3zM1418.45 945.4h1.3v29.9h-1.3zM1421.65 942.9h1.3v32.4h-1.3zM1424.85 940.3h1.3v35.0h-1.3zM1428.05 937.8h1.3v37.5h-1.3zM1431.25 935.2h1.3v40.1h-1.3zM1434.45 932.7h1.3v42.6h-1.3zM1437.65 930.1h1.3v45.2h-1.3zM1440.85 927.6h1.3v47.7h-1.3zM1444.05 925.0h1.3v50.3h-1.3zM1447.25 922.4h1.3v52.9h-1.3zM1450.45 919.9h1.3v55.4h-1.3zM1453.65 917.3h1.3v58.0h-1.3zM1456.85 914.7h1.3v60.6h-1.3zM1460.05 912.2h1.3v63.1h-1.3zM1463.25 909.6h1.3v65.7h-1.3zM1466.45 907.1h1.3v68.2h-1.3zM1572.05 972.1h1.3v3.2h-1.3zM1575.25 971.2h1.3v4.1h-1.3zM1578.45 970.2h1.3v5.1h-1.3zM1581.65 969.3h1.3v6.0h-1.3zM1584.85 968.3h1.3v7.0h-1.3zM1588.05 967.4h1.3v7.9h-1.3zM1591.25 966.4h1.3v8.9h-1.3zM1594.45 965.4h1.3v9.9h-1.3zM1597.65 964.2h1.3v11.1h-1.3zM1600.85 963.0h1.3v12.3h-1.3zM1604.05 961.9h1.3v13.4h-1.3zM1607.25 960.7h1.3v14.6h-1.3zM1610.45 959.5h1.3v15.8h-1.3zM1613.65 958.3h1.3v17.0h-1.3zM1616.85 957.2h1.3v18.1h-1.3zM1620.05 956.1h1.3v19.2h-1.3zM1623.25 955.1h1.3v20.2h-1.3zM1626.45 954.0h1.3v21.3h-1.3zM1629.65 952.9h1.3v22.4h-1.3z" fill="#c9a212"/>
<path d="M349.65 972.5h2.5v2.8h-2.5zM352.85 971.6h2.5v3.7h-2.5zM356.05 970.4h2.5v4.9h-2.5zM359.25 969.1h2.5v6.2h-2.5zM362.45 967.9h2.5v7.4h-2.5zM365.65 966.6h2.5v8.7h-2.5zM368.85 965.4h2.5v9.9h-2.5zM372.05 964.1h2.5v11.2h-2.5zM375.25 962.9h2.5v12.4h-2.5zM378.45 961.7h2.5v13.6h-2.5zM381.65 960.0h2.5v15.3h-2.5zM384.85 958.0h2.5v17.3h-2.5zM388.05 955.9h2.5v19.4h-2.5zM391.25 953.8h2.5v21.5h-2.5zM394.45 952.1h2.5v23.2h-2.5zM397.65 950.8h2.5v24.5h-2.5zM400.85 949.5h2.5v25.8h-2.5zM404.05 948.2h2.5v27.1h-2.5zM407.25 946.9h2.5v28.4h-2.5zM410.45 945.6h2.5v29.7h-2.5zM413.65 944.3h2.5v31.0h-2.5zM416.85 943.0h2.5v32.3h-2.5zM420.05 941.8h2.5v33.5h-2.5zM423.25 940.5h2.5v34.8h-2.5zM426.45 939.3h2.5v36.0h-2.5zM429.65 938.0h2.5v37.3h-2.5zM432.85 936.8h2.5v38.5h-2.5zM436.05 935.5h2.5v39.8h-2.5zM439.25 934.3h2.5v41.0h-2.5zM442.45 933.0h2.5v42.3h-2.5zM445.65 931.7h2.5v43.6h-2.5zM448.85 930.4h2.5v44.9h-2.5zM452.05 929.1h2.5v46.2h-2.5zM455.25 927.8h2.5v47.5h-2.5zM458.45 926.6h2.5v48.7h-2.5zM461.65 925.3h2.5v50.0h-2.5zM464.85 924.3h2.5v51.0h-2.5zM468.05 923.3h2.5v52.0h-2.5zM471.25 922.4h2.5v52.9h-2.5zM474.45 921.5h2.5v53.8h-2.5zM477.65 920.5h2.5v54.8h-2.5zM480.85 919.6h2.5v55.7h-2.5zM484.05 918.7h2.5v56.6h-2.5zM487.25 917.7h2.5v57.6h-2.5zM490.45 916.8h2.5v58.5h-2.5zM493.65 915.8h2.5v59.5h-2.5zM496.85 914.8h2.5v60.5h-2.5zM500.05 913.9h2.5v61.4h-2.5zM503.25 912.9h2.5v62.4h-2.5zM506.45 911.9h2.5v63.4h-2.5zM509.65 910.9h2.5v64.4h-2.5zM512.85 909.9h2.5v65.4h-2.5zM516.05 908.9h2.5v66.4h-2.5zM519.25 907.9h2.5v67.4h-2.5zM522.45 906.9h2.5v68.4h-2.5zM525.65 905.9h2.5v69.4h-2.5zM528.85 904.9h2.5v70.4h-2.5zM532.05 903.9h2.5v71.4h-2.5zM535.25 902.8h2.5v72.5h-2.5zM538.45 901.7h2.5v73.6h-2.5zM541.65 900.6h2.5v74.7h-2.5zM544.85 899.5h2.5v75.8h-2.5zM548.05 898.4h2.5v76.9h-2.5zM551.25 897.2h2.5v78.1h-2.5zM554.45 896.1h2.5v79.2h-2.5zM557.65 895.0h2.5v80.3h-2.5zM560.85 893.8h2.5v81.5h-2.5zM564.05 892.3h2.5v83.0h-2.5zM567.25 890.9h2.5v84.4h-2.5zM570.45 889.5h2.5v85.8h-2.5zM573.65 888.0h2.5v87.3h-2.5zM576.85 886.6h2.5v88.7h-2.5zM580.05 885.1h2.5v90.2h-2.5zM583.25 883.7h2.5v91.6h-2.5zM586.45 882.2h2.5v93.1h-2.5zM589.65 880.8h2.5v94.5h-2.5zM592.85 879.4h2.5v95.9h-2.5zM596.05 877.9h2.5v97.4h-2.5zM599.25 876.5h2.5v98.8h-2.5zM602.45 875.0h2.5v100.3h-2.5zM605.65 873.6h2.5v101.7h-2.5zM608.85 872.1h2.5v103.2h-2.5zM612.05 870.7h2.5v104.6h-2.5zM615.25 869.3h2.5v106.0h-2.5zM618.45 867.8h2.5v107.5h-2.5zM621.65 866.4h2.5v108.9h-2.5zM624.85 865.0h2.5v110.3h-2.5zM628.05 863.5h2.5v111.8h-2.5zM631.25 862.1h2.5v113.2h-2.5zM634.45 860.7h2.5v114.6h-2.5zM637.65 859.2h2.5v116.1h-2.5zM640.85 857.5h2.5v117.8h-2.5zM644.05 855.9h2.5v119.4h-2.5zM647.25 854.3h2.5v121.0h-2.5zM650.45 852.6h2.5v122.7h-2.5zM653.65 851.0h2.5v124.3h-2.5zM730.45 972.5h2.5v2.8h-2.5zM733.65 971.8h2.5v3.5h-2.5zM736.85 970.7h2.5v4.6h-2.5zM740.05 969.6h2.5v5.7h-2.5zM743.25 968.5h2.5v6.8h-2.5zM746.45 967.4h2.5v7.9h-2.5zM749.65 966.3h2.5v9.0h-2.5zM752.85 964.9h2.5v10.4h-2.5zM756.05 963.5h2.5v11.8h-2.5zM759.25 962.1h2.5v13.2h-2.5zM762.45 960.6h2.5v14.7h-2.5zM765.65 959.2h2.5v16.1h-2.5zM768.85 957.8h2.5v17.5h-2.5zM772.05 956.6h2.5v18.7h-2.5zM775.25 955.6h2.5v19.7h-2.5zM778.45 954.7h2.5v20.6h-2.5zM781.65 953.7h2.5v21.6h-2.5zM784.85 952.8h2.5v22.5h-2.5zM788.05 951.9h2.5v23.4h-2.5zM791.25 950.9h2.5v24.4h-2.5zM794.45 950.0h2.5v25.3h-2.5zM797.65 949.1h2.5v26.2h-2.5zM800.85 948.5h2.5v26.8h-2.5zM804.05 947.9h2.5v27.4h-2.5zM807.25 947.2h2.5v28.1h-2.5zM810.45 946.6h2.5v28.7h-2.5zM813.65 946.0h2.5v29.3h-2.5zM816.85 945.4h2.5v29.9h-2.5zM820.05 944.7h2.5v30.6h-2.5zM823.25 944.1h2.5v31.2h-2.5zM826.45 943.5h2.5v31.8h-2.5zM829.65 942.7h2.5v32.6h-2.5zM832.85 941.9h2.5v33.4h-2.5zM836.05 941.0h2.5v34.3h-2.5zM839.25 940.1h2.5v35.2h-2.5zM842.45 939.2h2.5v36.1h-2.5zM845.65 938.3h2.5v37.0h-2.5zM848.85 937.4h2.5v37.9h-2.5zM852.05 936.5h2.5v38.8h-2.5zM855.25 935.6h2.5v39.7h-2.5zM858.45 934.7h2.5v40.6h-2.5zM861.65 933.8h2.5v41.5h-2.5zM864.85 933.0h2.5v42.3h-2.5zM868.05 932.2h2.5v43.0h-2.5zM871.25 931.6h2.5v43.7h-2.5zM874.45 931.0h2.5v44.3h-2.5zM877.65 930.4h2.5v44.9h-2.5zM880.85 929.7h2.5v45.6h-2.5zM884.05 929.1h2.5v46.2h-2.5zM887.25 928.5h2.5v46.8h-2.5zM890.45 927.9h2.5v47.4h-2.5zM893.65 927.2h2.5v48.1h-2.5zM896.85 926.6h2.5v48.7h-2.5zM900.05 926.0h2.5v49.3h-2.5zM903.25 925.4h2.5v49.9h-2.5zM906.45 924.7h2.5v50.6h-2.5zM909.65 924.1h2.5v51.2h-2.5zM912.85 923.3h2.5v52.0h-2.5zM916.05 922.1h2.5v53.2h-2.5zM919.25 920.9h2.5v54.4h-2.5zM922.45 919.6h2.5v55.7h-2.5zM925.65 918.4h2.5v56.9h-2.5zM928.85 917.2h2.5v58.1h-2.5zM932.05 916.0h2.5v59.3h-2.5zM935.25 914.8h2.5v60.5h-2.5zM938.45 913.6h2.5v61.7h-2.5zM941.65 912.4h2.5v62.9h-2.5zM944.85 911.1h2.5v64.2h-2.5zM948.05 909.9h2.5v65.4h-2.5zM951.25 908.7h2.5v66.6h-2.5zM954.45 907.5h2.5v67.8h-2.5zM957.65 906.4h2.5v68.9h-2.5zM960.85 905.3h2.5v70.0h-2.5zM964.05 904.2h2.5v71.1h-2.5zM967.25 903.2h2.5v72.1h-2.5zM970.45 902.1h2.5v73.2h-2.5zM973.65 901.0h2.5v74.3h-2.5zM976.85 900.0h2.5v75.3h-2.5zM980.05 898.9h2.5v76.4h-2.5zM983.25 897.8h2.5v77.5h-2.5zM986.45 896.8h2.5v78.5h-2.5zM989.65 895.7h2.5v79.6h-2.5zM992.85 894.6h2.5v80.7h-2.5zM996.05 893.6h2.5v81.7h-2.5zM999.25 892.5h2.5v82.8h-2.5zM1002.45 891.4h2.5v83.9h-2.5zM1005.65 890.4h2.5v84.9h-2.5zM1008.85 889.5h2.5v85.8h-2.5zM1012.05 888.6h2.5v86.7h-2.5zM1015.25 887.8h2.5v87.5h-2.5zM1018.45 887.0h2.5v88.3h-2.5zM1021.65 886.2h2.5v89.1h-2.5zM1024.85 885.3h2.5v90.0h-2.5zM1028.05 884.5h2.5v90.8h-2.5zM1031.25 883.7h2.5v91.6h-2.5zM1034.45 882.9h2.5v92.4h-2.5zM1037.65 882.1h2.5v93.2h-2.5zM1040.85 881.2h2.5v94.1h-2.5zM1044.05 880.4h2.5v94.9h-2.5zM1047.25 879.6h2.5v95.7h-2.5zM1050.45 878.8h2.5v96.5h-2.5zM1053.65 877.9h2.5v97.4h-2.5zM1056.85 877.1h2.5v98.2h-2.5zM1060.05 876.3h2.5v99.0h-2.5zM1063.25 875.5h2.5v99.8h-2.5zM1066.45 874.7h2.5v100.6h-2.5zM1069.65 873.8h2.5v101.5h-2.5zM1072.85 873.0h2.5v102.3h-2.5zM1076.05 872.2h2.5v103.1h-2.5zM1079.25 871.4h2.5v103.9h-2.5zM1082.45 870.9h2.5v104.4h-2.5zM1085.65 870.4h2.5v104.9h-2.5zM1088.85 869.9h2.5v105.4h-2.5zM1092.05 869.4h2.5v105.9h-2.5zM1095.25 868.9h2.5v106.4h-2.5zM1098.45 868.4h2.5v106.9h-2.5zM1101.65 867.9h2.5v107.4h-2.5zM1104.85 867.4h2.5v107.9h-2.5zM1108.05 866.9h2.5v108.4h-2.5zM1111.25 866.4h2.5v108.9h-2.5zM1114.45 865.9h2.5v109.4h-2.5zM1117.65 865.4h2.5v109.9h-2.5zM1120.85 864.9h2.5v110.4h-2.5zM1124.05 864.3h2.5v111.0h-2.5zM1127.25 863.6h2.5v111.7h-2.5zM1130.45 862.8h2.5v112.5h-2.5zM1133.65 862.1h2.5v113.2h-2.5zM1136.85 861.4h2.5v113.9h-2.5zM1140.05 860.7h2.5v114.6h-2.5zM1143.25 859.9h2.5v115.4h-2.5zM1146.45 859.2h2.5v116.1h-2.5zM1149.65 858.5h2.5v116.8h-2.5zM1152.85 857.8h2.5v117.5h-2.5zM1156.05 857.0h2.5v118.3h-2.5zM1159.25 856.3h2.5v119.0h-2.5zM1162.45 855.6h2.5v119.7h-2.5zM1165.65 854.8h2.5v120.5h-2.5zM1168.85 854.1h2.5v121.2h-2.5zM1172.05 853.4h2.5v121.9h-2.5zM1175.25 852.5h2.5v122.8h-2.5zM1178.45 851.5h2.5v123.8h-2.5zM1181.65 850.4h2.5v124.9h-2.5zM1184.85 849.4h2.5v125.9h-2.5zM1188.05 848.3h2.5v127.0h-2.5zM1191.25 847.3h2.5v128.0h-2.5zM1194.45 846.2h2.5v129.1h-2.5zM1197.65 845.2h2.5v130.1h-2.5zM1200.85 844.1h2.5v131.2h-2.5zM1204.05 843.1h2.5v132.2h-2.5zM1207.25 842.0h2.5v133.3h-2.5zM1210.45 841.0h2.5v134.3h-2.5zM1213.65 840.0h2.5v135.3h-2.5zM1216.85 838.9h2.5v136.4h-2.5zM1220.05 837.9h2.5v137.4h-2.5zM1223.25 836.8h2.5v138.5h-2.5zM1226.45 835.7h2.5v139.6h-2.5zM1229.65 834.1h2.5v141.2h-2.5zM1232.85 832.5h2.5v142.8h-2.5zM1236.05 831.0h2.5v144.3h-2.5zM1239.25 829.4h2.5v145.9h-2.5zM1242.45 827.9h2.5v147.4h-2.5zM1245.65 826.3h2.5v149.0h-2.5zM1248.85 824.7h2.5v150.6h-2.5zM1252.05 823.0h2.5v152.3h-2.5zM1255.25 821.3h2.5v154.0h-2.5zM1258.45 819.5h2.5v155.8h-2.5zM1261.65 817.8h2.5v157.5h-2.5zM1264.85 816.1h2.5v159.2h-2.5zM1268.05 814.3h2.5v161.0h-2.5zM1271.25 812.6h2.5v162.7h-2.5zM1274.45 810.9h2.5v164.4h-2.5zM1277.65 809.2h2.5v166.1h-2.5zM1280.85 807.4h2.5v167.9h-2.5zM1284.05 805.7h2.5v169.6h-2.5zM1287.25 804.0h2.5v171.3h-2.5zM1290.45 802.9h2.5v172.4h-2.5zM1293.65 801.7h2.5v173.6h-2.5zM1296.85 800.6h2.5v174.7h-2.5zM1300.05 799.5h2.5v175.8h-2.5zM1303.25 798.3h2.5v177.0h-2.5zM1306.45 797.2h2.5v178.1h-2.5zM1309.65 796.1h2.5v179.2h-2.5zM1312.85 795.0h2.5v180.3h-2.5zM1316.05 793.8h2.5v181.5h-2.5zM1319.25 792.7h2.5v182.6h-2.5zM1322.45 791.6h2.5v183.7h-2.5zM1325.65 790.5h2.5v184.8h-2.5zM1328.85 789.4h2.5v185.9h-2.5zM1332.05 788.3h2.5v187.0h-2.5zM1335.25 787.2h2.5v188.1h-2.5zM1338.45 786.1h2.5v189.2h-2.5zM1341.65 784.0h2.5v191.3h-2.5zM1344.85 781.7h2.5v193.6h-2.5zM1348.05 779.5h2.5v195.8h-2.5zM1351.25 777.2h2.5v198.1h-2.5zM1354.45 774.5h2.5v200.8h-2.5zM1357.65 771.7h2.5v203.6h-2.5zM1360.85 769.0h2.5v206.3h-2.5zM1364.05 766.2h2.5v209.1h-2.5zM1367.25 763.5h2.5v211.8h-2.5zM1469.65 972.2h2.5v3.1h-2.5zM1472.85 969.5h2.5v5.8h-2.5zM1476.05 966.8h2.5v8.5h-2.5zM1479.25 964.2h2.5v11.1h-2.5zM1482.45 961.5h2.5v13.8h-2.5zM1485.65 958.9h2.5v16.4h-2.5zM1488.85 956.2h2.5v19.1h-2.5zM1492.05 953.5h2.5v21.8h-2.5zM1495.25 950.9h2.5v24.4h-2.5zM1498.45 948.8h2.5v26.5h-2.5zM1501.65 946.7h2.5v28.6h-2.5zM1504.85 944.7h2.5v30.6h-2.5zM1508.05 942.6h2.5v32.7h-2.5zM1511.25 940.5h2.5v34.8h-2.5zM1514.45 938.5h2.5v36.8h-2.5zM1517.65 936.4h2.5v38.9h-2.5zM1520.85 934.4h2.5v40.9h-2.5zM1524.05 932.3h2.5v43.0h-2.5zM1527.25 930.2h2.5v45.1h-2.5zM1530.45 928.2h2.5v47.1h-2.5zM1533.65 926.3h2.5v49.0h-2.5zM1536.85 924.5h2.5v50.8h-2.5zM1540.05 922.7h2.5v52.6h-2.5zM1543.25 920.9h2.5v54.4h-2.5zM1546.45 919.1h2.5v56.2h-2.5zM1549.65 917.3h2.5v58.0h-2.5zM1552.85 915.6h2.5v59.7h-2.5zM1556.05 914.2h2.5v61.1h-2.5zM1559.25 912.8h2.5v62.5h-2.5zM1562.45 911.4h2.5v63.9h-2.5zM1565.65 910.0h2.5v65.3h-2.5zM1632.85 972.5h2.5v2.8h-2.5zM1636.05 971.7h2.5v3.6h-2.5zM1639.25 970.8h2.5v4.5h-2.5zM1642.45 969.9h2.5v5.4h-2.5zM1645.65 968.9h2.5v6.4h-2.5zM1648.85 968.0h2.5v7.3h-2.5zM1652.05 967.1h2.5v8.2h-2.5zM1655.25 966.2h2.5v9.1h-2.5zM1658.45 965.3h2.5v10.0h-2.5zM1661.65 964.3h2.5v11.0h-2.5zM1664.85 963.4h2.5v11.9h-2.5zM1668.05 962.5h2.5v12.8h-2.5zM1671.25 961.6h2.5v13.7h-2.5zM1674.45 960.6h2.5v14.7h-2.5zM1677.65 959.7h2.5v15.6h-2.5zM1680.85 958.8h2.5v16.5h-2.5zM1684.05 957.9h2.5v17.4h-2.5zM1687.25 957.0h2.5v18.3h-2.5zM1690.45 956.0h2.5v19.3h-2.5zM1693.65 955.1h2.5v20.2h-2.5zM1696.85 954.2h2.5v21.1h-2.5zM1700.05 953.2h2.5v22.1h-2.5zM1703.25 952.2h2.5v23.1h-2.5zM1706.45 951.3h2.5v24.0h-2.5zM1709.65 950.3h2.5v25.0h-2.5zM1712.85 949.4h2.5v25.9h-2.5zM1716.05 948.4h2.5v26.9h-2.5zM1719.25 947.4h2.5v27.9h-2.5zM1722.45 946.6h2.5v28.7h-2.5zM1725.65 946.0h2.5v29.3h-2.5zM1728.85 945.5h2.5v29.8h-2.5zM1732.05 944.9h2.5v30.4h-2.5zM1735.25 944.3h2.5v31.0h-2.5zM1738.45 943.8h2.5v31.5h-2.5zM1741.65 943.2h2.5v32.1h-2.5zM1744.85 942.6h2.5v32.7h-2.5zM1748.05 942.1h2.5v33.2h-2.5zM1751.25 941.5h2.5v33.8h-2.5zM1754.45 940.9h2.5v34.4h-2.5zM1757.65 940.4h2.5v34.9h-2.5zM1760.85 940.1h2.5v35.2h-2.5zM1764.05 939.8h2.5v35.5h-2.5zM1767.25 939.5h2.5v35.8h-2.5zM1770.45 939.2h2.5v36.1h-2.5zM1773.65 938.9h2.5v36.4h-2.5zM1776.85 938.6h2.5v36.7h-2.5zM1780.05 938.3h2.5v37.0h-2.5zM1783.25 938.0h2.5v37.3h-2.5zM1786.45 937.7h2.5v37.6h-2.5zM1789.65 937.4h2.5v37.9h-2.5zM1792.85 937.1h2.5v38.2h-2.5zM1796.05 936.8h2.5v38.5h-2.5zM1799.25 936.5h2.5v38.8h-2.5zM1802.45 935.9h2.5v39.4h-2.5zM1805.65 935.4h2.5v39.9h-2.5zM1808.85 934.8h2.5v40.5h-2.5zM1812.05 934.3h2.5v41.0h-2.5zM1815.25 933.8h2.5v41.5h-2.5zM1818.45 933.2h2.5v42.1h-2.5zM1821.65 932.7h2.5v42.6h-2.5zM1824.85 932.1h2.5v43.2h-2.5zM1828.05 931.6h2.5v43.7h-2.5zM1831.25 930.5h2.5v44.8h-2.5zM1834.45 929.1h2.5v46.2h-2.5zM1837.65 927.7h2.5v47.6h-2.5zM1840.85 926.3h2.5v49.0h-2.5zM1844.05 924.9h2.5v50.4h-2.5zM1847.25 923.5h2.5v51.8h-2.5zM1850.45 922.1h2.5v53.2h-2.5zM1853.65 920.5h2.5v54.8h-2.5zM1856.85 918.9h2.5v56.4h-2.5zM1860.05 917.4h2.5v57.9h-2.5zM1863.25 915.8h2.5v59.5h-2.5zM1866.45 914.2h2.5v61.1h-2.5z" fill="#f74aa8"/>
<path d="M349.65 972.5h1.3v2.8h-1.3zM352.85 971.6h1.3v3.7h-1.3zM356.05 970.4h1.3v4.9h-1.3zM359.25 969.1h1.3v6.2h-1.3zM362.45 967.9h1.3v7.4h-1.3zM365.65 966.6h1.3v8.7h-1.3zM368.85 965.4h1.3v9.9h-1.3zM372.05 964.1h1.3v11.2h-1.3zM375.25 962.9h1.3v12.4h-1.3zM378.45 961.7h1.3v13.6h-1.3zM381.65 960.0h1.3v15.3h-1.3zM384.85 958.0h1.3v17.3h-1.3zM388.05 955.9h1.3v19.4h-1.3zM391.25 953.8h1.3v21.5h-1.3zM394.45 952.1h1.3v23.2h-1.3zM397.65 950.8h1.3v24.5h-1.3zM400.85 949.5h1.3v25.8h-1.3zM404.05 948.2h1.3v27.1h-1.3zM407.25 946.9h1.3v28.4h-1.3zM410.45 945.6h1.3v29.7h-1.3zM413.65 944.3h1.3v31.0h-1.3zM416.85 943.0h1.3v32.3h-1.3zM420.05 941.8h1.3v33.5h-1.3zM423.25 940.5h1.3v34.8h-1.3zM426.45 939.3h1.3v36.0h-1.3zM429.65 938.0h1.3v37.3h-1.3zM432.85 936.8h1.3v38.5h-1.3zM436.05 935.5h1.3v39.8h-1.3zM439.25 934.3h1.3v41.0h-1.3zM442.45 933.0h1.3v42.3h-1.3zM445.65 931.7h1.3v43.6h-1.3zM448.85 930.4h1.3v44.9h-1.3zM452.05 929.1h1.3v46.2h-1.3zM455.25 927.8h1.3v47.5h-1.3zM458.45 926.6h1.3v48.7h-1.3zM461.65 925.3h1.3v50.0h-1.3zM464.85 924.3h1.3v51.0h-1.3zM468.05 923.3h1.3v52.0h-1.3zM471.25 922.4h1.3v52.9h-1.3zM474.45 921.5h1.3v53.8h-1.3zM477.65 920.5h1.3v54.8h-1.3zM480.85 919.6h1.3v55.7h-1.3zM484.05 918.7h1.3v56.6h-1.3zM487.25 917.7h1.3v57.6h-1.3zM490.45 916.8h1.3v58.5h-1.3zM493.65 915.8h1.3v59.5h-1.3zM496.85 914.8h1.3v60.5h-1.3zM500.05 913.9h1.3v61.4h-1.3zM503.25 912.9h1.3v62.4h-1.3zM506.45 911.9h1.3v63.4h-1.3zM509.65 910.9h1.3v64.4h-1.3zM512.85 909.9h1.3v65.4h-1.3zM516.05 908.9h1.3v66.4h-1.3zM519.25 907.9h1.3v67.4h-1.3zM522.45 906.9h1.3v68.4h-1.3zM525.65 905.9h1.3v69.4h-1.3zM528.85 904.9h1.3v70.4h-1.3zM532.05 903.9h1.3v71.4h-1.3zM535.25 902.8h1.3v72.5h-1.3zM538.45 901.7h1.3v73.6h-1.3zM541.65 900.6h1.3v74.7h-1.3zM544.85 899.5h1.3v75.8h-1.3zM548.05 898.4h1.3v76.9h-1.3zM551.25 897.2h1.3v78.1h-1.3zM554.45 896.1h1.3v79.2h-1.3zM557.65 895.0h1.3v80.3h-1.3zM560.85 893.8h1.3v81.5h-1.3zM564.05 892.3h1.3v83.0h-1.3zM567.25 890.9h1.3v84.4h-1.3zM570.45 889.5h1.3v85.8h-1.3zM573.65 888.0h1.3v87.3h-1.3zM576.85 886.6h1.3v88.7h-1.3zM580.05 885.1h1.3v90.2h-1.3zM583.25 883.7h1.3v91.6h-1.3zM586.45 882.2h1.3v93.1h-1.3zM589.65 880.8h1.3v94.5h-1.3zM592.85 879.4h1.3v95.9h-1.3zM596.05 877.9h1.3v97.4h-1.3zM599.25 876.5h1.3v98.8h-1.3zM602.45 875.0h1.3v100.3h-1.3zM605.65 873.6h1.3v101.7h-1.3zM608.85 872.1h1.3v103.2h-1.3zM612.05 870.7h1.3v104.6h-1.3zM615.25 869.3h1.3v106.0h-1.3zM618.45 867.8h1.3v107.5h-1.3zM621.65 866.4h1.3v108.9h-1.3zM624.85 865.0h1.3v110.3h-1.3zM628.05 863.5h1.3v111.8h-1.3zM631.25 862.1h1.3v113.2h-1.3zM634.45 860.7h1.3v114.6h-1.3zM637.65 859.2h1.3v116.1h-1.3zM640.85 857.5h1.3v117.8h-1.3zM644.05 855.9h1.3v119.4h-1.3zM647.25 854.3h1.3v121.0h-1.3zM650.45 852.6h1.3v122.7h-1.3zM653.65 851.0h1.3v124.3h-1.3zM730.45 972.5h1.3v2.8h-1.3zM733.65 971.8h1.3v3.5h-1.3zM736.85 970.7h1.3v4.6h-1.3zM740.05 969.6h1.3v5.7h-1.3zM743.25 968.5h1.3v6.8h-1.3zM746.45 967.4h1.3v7.9h-1.3zM749.65 966.3h1.3v9.0h-1.3zM752.85 964.9h1.3v10.4h-1.3zM756.05 963.5h1.3v11.8h-1.3zM759.25 962.1h1.3v13.2h-1.3zM762.45 960.6h1.3v14.7h-1.3zM765.65 959.2h1.3v16.1h-1.3zM768.85 957.8h1.3v17.5h-1.3zM772.05 956.6h1.3v18.7h-1.3zM775.25 955.6h1.3v19.7h-1.3zM778.45 954.7h1.3v20.6h-1.3zM781.65 953.7h1.3v21.6h-1.3zM784.85 952.8h1.3v22.5h-1.3zM788.05 951.9h1.3v23.4h-1.3zM791.25 950.9h1.3v24.4h-1.3zM794.45 950.0h1.3v25.3h-1.3zM797.65 949.1h1.3v26.2h-1.3zM800.85 948.5h1.3v26.8h-1.3zM804.05 947.9h1.3v27.4h-1.3zM807.25 947.2h1.3v28.1h-1.3zM810.45 946.6h1.3v28.7h-1.3zM813.65 946.0h1.3v29.3h-1.3zM816.85 945.4h1.3v29.9h-1.3zM820.05 944.7h1.3v30.6h-1.3zM823.25 944.1h1.3v31.2h-1.3zM826.45 943.5h1.3v31.8h-1.3zM829.65 942.7h1.3v32.6h-1.3zM832.85 941.9h1.3v33.4h-1.3zM836.05 941.0h1.3v34.3h-1.3zM839.25 940.1h1.3v35.2h-1.3zM842.45 939.2h1.3v36.1h-1.3zM845.65 938.3h1.3v37.0h-1.3zM848.85 937.4h1.3v37.9h-1.3zM852.05 936.5h1.3v38.8h-1.3zM855.25 935.6h1.3v39.7h-1.3zM858.45 934.7h1.3v40.6h-1.3zM861.65 933.8h1.3v41.5h-1.3zM864.85 933.0h1.3v42.3h-1.3zM868.05 932.2h1.3v43.0h-1.3zM871.25 931.6h1.3v43.7h-1.3zM874.45 931.0h1.3v44.3h-1.3zM877.65 930.4h1.3v44.9h-1.3zM880.85 929.7h1.3v45.6h-1.3zM884.05 929.1h1.3v46.2h-1.3zM887.25 928.5h1.3v46.8h-1.3zM890.45 927.9h1.3v47.4h-1.3zM893.65 927.2h1.3v48.1h-1.3zM896.85 926.6h1.3v48.7h-1.3zM900.05 926.0h1.3v49.3h-1.3zM903.25 925.4h1.3v49.9h-1.3zM906.45 924.7h1.3v50.6h-1.3zM909.65 924.1h1.3v51.2h-1.3zM912.85 923.3h1.3v52.0h-1.3zM916.05 922.1h1.3v53.2h-1.3zM919.25 920.9h1.3v54.4h-1.3zM922.45 919.6h1.3v55.7h-1.3zM925.65 918.4h1.3v56.9h-1.3zM928.85 917.2h1.3v58.1h-1.3zM932.05 916.0h1.3v59.3h-1.3zM935.25 914.8h1.3v60.5h-1.3zM938.45 913.6h1.3v61.7h-1.3zM941.65 912.4h1.3v62.9h-1.3zM944.85 911.1h1.3v64.2h-1.3zM948.05 909.9h1.3v65.4h-1.3zM951.25 908.7h1.3v66.6h-1.3zM954.45 907.5h1.3v67.8h-1.3zM957.65 906.4h1.3v68.9h-1.3zM960.85 905.3h1.3v70.0h-1.3zM964.05 904.2h1.3v71.1h-1.3zM967.25 903.2h1.3v72.1h-1.3zM970.45 902.1h1.3v73.2h-1.3zM973.65 901.0h1.3v74.3h-1.3zM976.85 900.0h1.3v75.3h-1.3zM980.05 898.9h1.3v76.4h-1.3zM983.25 897.8h1.3v77.5h-1.3zM986.45 896.8h1.3v78.5h-1.3zM989.65 895.7h1.3v79.6h-1.3zM992.85 894.6h1.3v80.7h-1.3zM996.05 893.6h1.3v81.7h-1.3zM999.25 892.5h1.3v82.8h-1.3zM1002.45 891.4h1.3v83.9h-1.3zM1005.65 890.4h1.3v84.9h-1.3zM1008.85 889.5h1.3v85.8h-1.3zM1012.05 888.6h1.3v86.7h-1.3zM1015.25 887.8h1.3v87.5h-1.3zM1018.45 887.0h1.3v88.3h-1.3zM1021.65 886.2h1.3v89.1h-1.3zM1024.85 885.3h1.3v90.0h-1.3zM1028.05 884.5h1.3v90.8h-1.3zM1031.25 883.7h1.3v91.6h-1.3zM1034.45 882.9h1.3v92.4h-1.3zM1037.65 882.1h1.3v93.2h-1.3zM1040.85 881.2h1.3v94.1h-1.3zM1044.05 880.4h1.3v94.9h-1.3zM1047.25 879.6h1.3v95.7h-1.3zM1050.45 878.8h1.3v96.5h-1.3zM1053.65 877.9h1.3v97.4h-1.3zM1056.85 877.1h1.3v98.2h-1.3zM1060.05 876.3h1.3v99.0h-1.3zM1063.25 875.5h1.3v99.8h-1.3zM1066.45 874.7h1.3v100.6h-1.3zM1069.65 873.8h1.3v101.5h-1.3zM1072.85 873.0h1.3v102.3h-1.3zM1076.05 872.2h1.3v103.1h-1.3zM1079.25 871.4h1.3v103.9h-1.3zM1082.45 870.9h1.3v104.4h-1.3zM1085.65 870.4h1.3v104.9h-1.3zM1088.85 869.9h1.3v105.4h-1.3zM1092.05 869.4h1.3v105.9h-1.3zM1095.25 868.9h1.3v106.4h-1.3zM1098.45 868.4h1.3v106.9h-1.3zM1101.65 867.9h1.3v107.4h-1.3zM1104.85 867.4h1.3v107.9h-1.3zM1108.05 866.9h1.3v108.4h-1.3zM1111.25 866.4h1.3v108.9h-1.3zM1114.45 865.9h1.3v109.4h-1.3zM1117.65 865.4h1.3v109.9h-1.3zM1120.85 864.9h1.3v110.4h-1.3zM1124.05 864.3h1.3v111.0h-1.3zM1127.25 863.6h1.3v111.7h-1.3zM1130.45 862.8h1.3v112.5h-1.3zM1133.65 862.1h1.3v113.2h-1.3zM1136.85 861.4h1.3v113.9h-1.3zM1140.05 860.7h1.3v114.6h-1.3zM1143.25 859.9h1.3v115.4h-1.3zM1146.45 859.2h1.3v116.1h-1.3zM1149.65 858.5h1.3v116.8h-1.3zM1152.85 857.8h1.3v117.5h-1.3zM1156.05 857.0h1.3v118.3h-1.3zM1159.25 856.3h1.3v119.0h-1.3zM1162.45 855.6h1.3v119.7h-1.3zM1165.65 854.8h1.3v120.5h-1.3zM1168.85 854.1h1.3v121.2h-1.3zM1172.05 853.4h1.3v121.9h-1.3zM1175.25 852.5h1.3v122.8h-1.3zM1178.45 851.5h1.3v123.8h-1.3zM1181.65 850.4h1.3v124.9h-1.3zM1184.85 849.4h1.3v125.9h-1.3zM1188.05 848.3h1.3v127.0h-1.3zM1191.25 847.3h1.3v128.0h-1.3zM1194.45 846.2h1.3v129.1h-1.3zM1197.65 845.2h1.3v130.1h-1.3zM1200.85 844.1h1.3v131.2h-1.3zM1204.05 843.1h1.3v132.2h-1.3zM1207.25 842.0h1.3v133.3h-1.3zM1210.45 841.0h1.3v134.3h-1.3zM1213.65 840.0h1.3v135.3h-1.3zM1216.85 838.9h1.3v136.4h-1.3zM1220.05 837.9h1.3v137.4h-1.3zM1223.25 836.8h1.3v138.5h-1.3zM1226.45 835.7h1.3v139.6h-1.3zM1229.65 834.1h1.3v141.2h-1.3zM1232.85 832.5h1.3v142.8h-1.3zM1236.05 831.0h1.3v144.3h-1.3zM1239.25 829.4h1.3v145.9h-1.3zM1242.45 827.9h1.3v147.4h-1.3zM1245.65 826.3h1.3v149.0h-1.3zM1248.85 824.7h1.3v150.6h-1.3zM1252.05 823.0h1.3v152.3h-1.3zM1255.25 821.3h1.3v154.0h-1.3zM1258.45 819.5h1.3v155.8h-1.3zM1261.65 817.8h1.3v157.5h-1.3zM1264.85 816.1h1.3v159.2h-1.3zM1268.05 814.3h1.3v161.0h-1.3zM1271.25 812.6h1.3v162.7h-1.3zM1274.45 810.9h1.3v164.4h-1.3zM1277.65 809.2h1.3v166.1h-1.3zM1280.85 807.4h1.3v167.9h-1.3zM1284.05 805.7h1.3v169.6h-1.3zM1287.25 804.0h1.3v171.3h-1.3zM1290.45 802.9h1.3v172.4h-1.3zM1293.65 801.7h1.3v173.6h-1.3zM1296.85 800.6h1.3v174.7h-1.3zM1300.05 799.5h1.3v175.8h-1.3zM1303.25 798.3h1.3v177.0h-1.3zM1306.45 797.2h1.3v178.1h-1.3zM1309.65 796.1h1.3v179.2h-1.3zM1312.85 795.0h1.3v180.3h-1.3zM1316.05 793.8h1.3v181.5h-1.3zM1319.25 792.7h1.3v182.6h-1.3zM1322.45 791.6h1.3v183.7h-1.3zM1325.65 790.5h1.3v184.8h-1.3zM1328.85 789.4h1.3v185.9h-1.3zM1332.05 788.3h1.3v187.0h-1.3zM1335.25 787.2h1.3v188.1h-1.3zM1338.45 786.1h1.3v189.2h-1.3zM1341.65 784.0h1.3v191.3h-1.3zM1344.85 781.7h1.3v193.6h-1.3zM1348.05 779.5h1.3v195.8h-1.3zM1351.25 777.2h1.3v198.1h-1.3zM1354.45 774.5h1.3v200.8h-1.3zM1357.65 771.7h1.3v203.6h-1.3zM1360.85 769.0h1.3v206.3h-1.3zM1364.05 766.2h1.3v209.1h-1.3zM1367.25 763.5h1.3v211.8h-1.3zM1469.65 972.2h1.3v3.1h-1.3zM1472.85 969.5h1.3v5.8h-1.3zM1476.05 966.8h1.3v8.5h-1.3zM1479.25 964.2h1.3v11.1h-1.3zM1482.45 961.5h1.3v13.8h-1.3zM1485.65 958.9h1.3v16.4h-1.3zM1488.85 956.2h1.3v19.1h-1.3zM1492.05 953.5h1.3v21.8h-1.3zM1495.25 950.9h1.3v24.4h-1.3zM1498.45 948.8h1.3v26.5h-1.3zM1501.65 946.7h1.3v28.6h-1.3zM1504.85 944.7h1.3v30.6h-1.3zM1508.05 942.6h1.3v32.7h-1.3zM1511.25 940.5h1.3v34.8h-1.3zM1514.45 938.5h1.3v36.8h-1.3zM1517.65 936.4h1.3v38.9h-1.3zM1520.85 934.4h1.3v40.9h-1.3zM1524.05 932.3h1.3v43.0h-1.3zM1527.25 930.2h1.3v45.1h-1.3zM1530.45 928.2h1.3v47.1h-1.3zM1533.65 926.3h1.3v49.0h-1.3zM1536.85 924.5h1.3v50.8h-1.3zM1540.05 922.7h1.3v52.6h-1.3zM1543.25 920.9h1.3v54.4h-1.3zM1546.45 919.1h1.3v56.2h-1.3zM1549.65 917.3h1.3v58.0h-1.3zM1552.85 915.6h1.3v59.7h-1.3zM1556.05 914.2h1.3v61.1h-1.3zM1559.25 912.8h1.3v62.5h-1.3zM1562.45 911.4h1.3v63.9h-1.3zM1565.65 910.0h1.3v65.3h-1.3zM1632.85 972.5h1.3v2.8h-1.3zM1636.05 971.7h1.3v3.6h-1.3zM1639.25 970.8h1.3v4.5h-1.3zM1642.45 969.9h1.3v5.4h-1.3zM1645.65 968.9h1.3v6.4h-1.3zM1648.85 968.0h1.3v7.3h-1.3zM1652.05 967.1h1.3v8.2h-1.3zM1655.25 966.2h1.3v9.1h-1.3zM1658.45 965.3h1.3v10.0h-1.3zM1661.65 964.3h1.3v11.0h-1.3zM1664.85 963.4h1.3v11.9h-1.3zM1668.05 962.5h1.3v12.8h-1.3zM1671.25 961.6h1.3v13.7h-1.3zM1674.45 960.6h1.3v14.7h-1.3zM1677.65 959.7h1.3v15.6h-1.3zM1680.85 958.8h1.3v16.5h-1.3zM1684.05 957.9h1.3v17.4h-1.3zM1687.25 957.0h1.3v18.3h-1.3zM1690.45 956.0h1.3v19.3h-1.3zM1693.65 955.1h1.3v20.2h-1.3zM1696.85 954.2h1.3v21.1h-1.3zM1700.05 953.2h1.3v22.1h-1.3zM1703.25 952.2h1.3v23.1h-1.3zM1706.45 951.3h1.3v24.0h-1.3zM1709.65 950.3h1.3v25.0h-1.3zM1712.85 949.4h1.3v25.9h-1.3zM1716.05 948.4h1.3v26.9h-1.3zM1719.25 947.4h1.3v27.9h-1.3zM1722.45 946.6h1.3v28.7h-1.3zM1725.65 946.0h1.3v29.3h-1.3zM1728.85 945.5h1.3v29.8h-1.3zM1732.05 944.9h1.3v30.4h-1.3zM1735.25 944.3h1.3v31.0h-1.3zM1738.45 943.8h1.3v31.5h-1.3zM1741.65 943.2h1.3v32.1h-1.3zM1744.85 942.6h1.3v32.7h-1.3zM1748.05 942.1h1.3v33.2h-1.3zM1751.25 941.5h1.3v33.8h-1.3zM1754.45 940.9h1.3v34.4h-1.3zM1757.65 940.4h1.3v34.9h-1.3zM1760.85 940.1h1.3v35.2h-1.3zM1764.05 939.8h1.3v35.5h-1.3zM1767.25 939.5h1.3v35.8h-1.3zM1770.45 939.2h1.3v36.1h-1.3zM1773.65 938.9h1.3v36.4h-1.3zM1776.85 938.6h1.3v36.7h-1.3zM1780.05 938.3h1.3v37.0h-1.3zM1783.25 938.0h1.3v37.3h-1.3zM1786.45 937.7h1.3v37.6h-1.3zM1789.65 937.4h1.3v37.9h-1.3zM1792.85 937.1h1.3v38.2h-1.3zM1796.05 936.8h1.3v38.5h-1.3zM1799.25 936.5h1.3v38.8h-1.3zM1802.45 935.9h1.3v39.4h-1.3zM1805.65 935.4h1.3v39.9h-1.3zM1808.85 934.8h1.3v40.5h-1.3zM1812.05 934.3h1.3v41.0h-1.3zM1815.25 933.8h1.3v41.5h-1.3zM1818.45 933.2h1.3v42.1h-1.3zM1821.65 932.7h1.3v42.6h-1.3zM1824.85 932.1h1.3v43.2h-1.3zM1828.05 931.6h1.3v43.7h-1.3zM1831.25 930.5h1.3v44.8h-1.3zM1834.45 929.1h1.3v46.2h-1.3zM1837.65 927.7h1.3v47.6h-1.3zM1840.85 926.3h1.3v49.0h-1.3zM1844.05 924.9h1.3v50.4h-1.3zM1847.25 923.5h1.3v51.8h-1.3zM1850.45 922.1h1.3v53.2h-1.3zM1853.65 920.5h1.3v54.8h-1.3zM1856.85 918.9h1.3v56.4h-1.3zM1860.05 917.4h1.3v57.9h-1.3zM1863.25 915.8h1.3v59.5h-1.3zM1866.45 914.2h1.3v61.1h-1.3z" fill="#bc0a5c"/>
<rect x="4" y="975.3" width="1865" height="1" fill="#777"/>
<path d="M4.5 649.4 L348.0 726.0 L651.5 597.5" stroke="#6fcfc0" stroke-width="1" fill="none"/>
<path d="M655.5 597.5 L727.7 672.2" stroke="#6fcfc0" stroke-width="1" fill="none"/>
<path d="M749.5 657.8 L1368.7 190.8 L1468.0 398.8 L1567.0 213.5 L1631.7 279.0 L1862.7 139.0" stroke="#6fcfc0" stroke-width="1" fill="none"/>
<path d="M8.5 683.0V689.7M15.5 678.1V689.0M18.5 672.3V679.1M25.5 670.8V676.7M37.5 664.7V681.0M40.5 659.1V670.7M47.5 659.8V668.4M53.5 654.2V665.3M60.5 655.4V662.2M63.5 653.4V658.4M82.5 697.8V703.7M88.5 698.6V706.9M92.5 694.9V704.8M95.5 687.9V698.7M98.5 682.2V691.9M117.5 697.1V712.3M124.5 698.7V709.0M127.5 694.3V701.9M130.5 691.9V699.4M133.5 685.4V695.0M137.5 677.8V689.5M153.5 696.6V716.1M159.5 693.0V705.6M162.5 688.8V696.8M169.5 689.7V697.6M175.5 682.3V693.5M181.5 689.7V702.0M185.5 681.4V694.0M197.5 690.9V698.2M201.5 687.9V695.4M204.5 676.9V690.7M207.5 667.2V682.8M217.5 673.0V680.2M220.5 661.2V676.7M233.5 694.4V701.7M236.5 689.6V701.6M239.5 688.5V701.7M245.5 681.0V694.1M271.5 700.2V707.6M280.5 694.4V710.0M284.5 692.4V698.8M287.5 684.9V696.7M290.5 682.0V690.2M300.5 691.4V698.3M303.5 689.7V698.1M313.5 686.4V701.5M332.5 696.6V709.7M335.5 698.3V702.3M338.5 695.1V702.4M341.5 694.2V701.1M351.5 717.1V731.8M354.5 691.6V719.9M361.5 685.0V709.3M364.5 668.0V686.8M367.5 658.7V675.1M380.5 694.1V702.5M383.5 663.5V698.3M389.5 654.5V690.6M393.5 648.6V656.8M396.5 634.0V651.7M405.5 666.8V670.7M409.5 651.3V672.0M415.5 646.1V657.1M421.5 652.1V659.7M425.5 641.6V654.9M431.5 636.7V646.4M434.5 631.2V652.1M437.5 623.5V635.4M453.5 639.6V651.6M457.5 634.4V644.8M476.5 654.3V682.6M479.5 651.7V658.1M482.5 649.3V656.3M485.5 640.9V652.6M489.5 634.0V647.3M495.5 641.9V653.7M498.5 632.0V645.7M501.5 630.1V644.9M505.5 615.4V634.7M508.5 611.4V618.9M514.5 609.7V617.2M520.5 619.4V629.6M524.5 607.4V624.4M527.5 604.7V611.0M536.5 613.6V626.4M559.5 630.0V656.0M565.5 628.4V650.3M572.5 632.0V646.1M578.5 648.8V665.8M581.5 638.2V654.0M584.5 634.4V645.7M597.5 640.5V652.1M600.5 622.4V644.5M616.5 643.7V659.3M620.5 638.5V648.1M623.5 633.4V646.4M626.5 620.8V638.3M632.5 628.0V636.0M636.5 623.2V639.3M639.5 607.9V626.4M652.5 593.5V634.4M655.5 594.2V612.2M671.5 621.2V654.8M677.5 618.4V634.4M680.5 614.7V624.5M687.5 609.7V627.4M690.5 604.7V617.7M696.5 610.3V628.0M700.5 603.1V615.7M703.5 603.9V612.7M706.5 598.0V610.0M709.5 590.3V605.5M725.5 640.9V654.6M732.5 654.1V676.5M741.5 662.1V680.2M748.5 644.1V668.3M751.5 642.5V650.5M754.5 633.6V648.3M757.5 629.4V644.8M764.5 629.6V639.3M770.5 628.0V637.7M776.5 627.5V633.2M783.5 625.6V637.2M799.5 635.9V643.9M802.5 633.6V640.0M812.5 638.2V645.4M815.5 630.3V639.8M818.5 628.8V634.4M821.5 620.8V630.2M828.5 617.0V625.0M831.5 611.9V620.8M840.5 609.8V621.4M847.5 611.6V621.8M850.5 604.6V613.8M863.5 613.5V622.5M866.5 608.1V619.0M869.5 594.9V613.2M872.5 587.9V599.8M876.5 583.3V591.8M879.5 567.0V589.4M882.5 551.3V585.0M885.5 544.8V554.1M888.5 531.7V552.9M904.5 542.9V552.6M908.5 543.5V546.8M911.5 542.2V547.4M914.5 533.1V546.1M917.5 531.7V544.0M920.5 525.2V537.0M924.5 520.0V532.0M927.5 518.3V525.0M930.5 509.1V525.4M933.5 506.2V519.2M940.5 500.9V516.6M943.5 496.4V510.1M949.5 496.4V508.7M959.5 513.0V531.0M968.5 509.4V527.0M975.5 504.2V517.3M981.5 496.7V514.5M984.5 488.5V502.1M988.5 482.7V494.4M994.5 485.2V508.8M1000.5 480.1V489.9M1004.5 469.6V486.9M1007.5 467.0V484.0M1016.5 468.6V476.1M1020.5 448.1V470.9M1029.5 446.8V459.8M1039.5 455.2V461.4M1042.5 455.0V463.1M1045.5 448.7V458.4M1058.5 457.8V471.3M1061.5 445.9V461.1M1064.5 435.4V449.1M1074.5 443.2V453.4M1080.5 457.2V464.9M1087.5 455.1V469.8M1090.5 453.4V458.3M1093.5 448.3V456.0M1096.5 444.9V454.5M1103.5 448.7V458.0M1106.5 450.8V457.7M1119.5 449.0V463.7M1125.5 436.3V453.1M1128.5 431.2V441.7M1132.5 428.1V440.5M1141.5 447.0V456.8M1164.5 472.4V483.3M1170.5 468.4V482.2M1173.5 462.8V476.1M1196.5 473.3V491.3M1202.5 469.7V493.5M1208.5 449.1V482.9M1212.5 445.5V454.2M1218.5 443.1V455.1M1221.5 425.5V448.5M1224.5 423.9V428.6M1228.5 408.4V428.1M1231.5 394.5V410.8M1234.5 388.6V399.1M1237.5 372.0V391.0M1244.5 370.8V383.9M1250.5 367.2V386.2M1256.5 376.3V394.9M1260.5 363.6V380.5M1263.5 341.9V378.3M1269.5 290.1V360.8M1276.5 298.7V321.4M1279.5 291.3V303.5M1295.5 325.0V339.5M1298.5 315.0V329.1M1314.5 336.8V351.2M1320.5 316.9V349.8M1327.5 315.8V329.1M1336.5 328.0V345.1M1343.5 322.8V361.1M1346.5 288.2V327.0M1349.5 230.7V310.3M1352.5 210.8V256.1M1359.5 192.0V221.9M1362.5 171.0V227.4M1365.5 178.8V197.6M1368.5 175.5V199.8M1375.5 210.1V224.1M1384.5 253.9V282.7M1410.5 359.7V393.1M1416.5 337.1V367.9M1423.5 328.9V360.6M1429.5 344.0V368.7M1442.5 370.5V401.3M1445.5 345.2V378.5M1452.5 351.5V385.2M1455.5 350.6V362.3M1461.5 343.7V375.9M1464.5 329.8V348.3M1471.5 377.0V413.9M1474.5 347.0V381.2M1480.5 322.6V370.5M1487.5 312.2V366.5M1490.5 282.8V315.7M1493.5 278.6V303.5M1496.5 263.1V299.7M1506.5 270.2V291.3M1509.5 272.3V290.6M1512.5 262.4V287.0M1516.5 257.5V269.0M1522.5 269.3V290.6M1525.5 256.1V273.8M1528.5 244.9V268.4M1532.5 227.3V251.4M1538.5 241.3V252.4M1544.5 248.4V257.5M1554.5 233.6V262.3M1557.5 225.9V238.9M1560.5 224.5V242.0M1564.5 223.1V246.3M1567.5 212.5V229.4M1586.5 261.5V270.1M1592.5 254.7V272.3M1602.5 251.5V271.4M1608.5 255.8V275.5M1612.5 251.6V267.8M1618.5 246.6V261.4M1634.5 275.0V282.3M1637.5 266.5V282.3M1644.5 267.8V274.1M1647.5 269.6V272.3M1653.5 266.5V276.5M1656.5 250.2V270.1M1660.5 240.7V251.8M1666.5 244.3V256.0M1676.5 252.9V263.6M1679.5 251.3V260.1M1682.5 247.0V256.1M1685.5 244.3V252.0M1688.5 245.5V255.2M1692.5 241.4V250.1M1695.5 239.8V245.6M1698.5 237.1V243.7M1701.5 230.8V240.6M1711.5 236.3V243.1M1714.5 230.2V239.9M1720.5 236.4V241.3M1724.5 228.4V240.6M1730.5 228.3V233.9M1733.5 227.7V234.5M1736.5 215.8V229.4M1752.5 228.3V232.2M1756.5 223.4V232.9M1759.5 219.5V225.1M1768.5 220.2V228.3M1775.5 218.8V227.8M1791.5 224.1V230.1M1794.5 214.6V228.7M1800.5 204.3V218.3M1807.5 208.3V215.0M1813.5 207.6V216.3M1816.5 207.9V214.4M1820.5 208.6V211.8M1829.5 215.7V224.4M1832.5 192.0V223.3M1836.5 183.8V195.8M1842.5 172.7V194.9M1845.5 158.3V187.6M1848.5 149.2V175.3M1852.5 141.3V156.6M1858.5 142.0V159.6M1864.5 116.5V163.5" stroke="#4fb8a6" stroke-width="1" fill="none"/>
<path d="M7.3 685.0h2.4V688.0h-2.4zM14.3 679.0h2.4V689.0h-2.4zM17.3 673.0h2.4V679.0h-2.4zM24.3 672.0h2.4V674.0h-2.4zM36.3 666.0h2.4V679.0h-2.4zM39.3 662.0h2.4V670.0h-2.4zM46.3 662.0h2.4V667.0h-2.4zM52.3 656.0h2.4V665.0h-2.4zM59.3 656.0h2.4V662.0h-2.4zM62.3 655.0h2.4V658.0h-2.4zM81.3 700.0h2.4V703.0h-2.4zM87.3 701.0h2.4V705.0h-2.4zM91.3 696.0h2.4V704.0h-2.4zM94.3 690.0h2.4V697.0h-2.4zM97.3 684.0h2.4V690.0h-2.4zM116.3 699.0h2.4V712.0h-2.4zM123.3 699.0h2.4V707.0h-2.4zM126.3 696.0h2.4V700.0h-2.4zM129.3 693.0h2.4V698.0h-2.4zM132.3 686.0h2.4V694.0h-2.4zM136.3 680.0h2.4V687.0h-2.4zM152.3 699.0h2.4V715.0h-2.4zM158.3 694.0h2.4V704.0h-2.4zM161.3 691.0h2.4V694.0h-2.4zM168.3 690.0h2.4V695.0h-2.4zM174.3 684.0h2.4V692.0h-2.4zM180.3 692.0h2.4V695.0h-2.4zM184.3 682.0h2.4V692.0h-2.4zM196.3 692.0h2.4V696.0h-2.4zM200.3 689.0h2.4V695.0h-2.4zM203.3 679.0h2.4V689.0h-2.4zM206.3 670.0h2.4V680.0h-2.4zM216.3 674.0h2.4V679.0h-2.4zM219.3 664.0h2.4V674.0h-2.4zM232.3 695.0h2.4V700.0h-2.4zM235.3 692.0h2.4V700.0h-2.4zM238.3 691.0h2.4V700.0h-2.4zM244.3 684.0h2.4V692.0h-2.4zM270.3 702.0h2.4V707.0h-2.4zM279.3 696.0h2.4V704.0h-2.4zM283.3 695.0h2.4V697.0h-2.4zM286.3 687.0h2.4V695.0h-2.4zM289.3 684.0h2.4V688.0h-2.4zM299.3 694.0h2.4V696.0h-2.4zM302.3 691.0h2.4V697.0h-2.4zM312.3 689.0h2.4V700.0h-2.4zM331.3 699.0h2.4V708.5h-2.4zM334.3 699.0h2.4V701.0h-2.4zM337.3 698.0h2.4V700.0h-2.4zM340.3 695.0h2.4V700.0h-2.4zM350.3 718.0h2.4V726.0h-2.4zM353.3 706.0h2.4V718.0h-2.4zM360.3 686.0h2.4V707.0h-2.4zM363.3 673.0h2.4V686.0h-2.4zM366.3 671.0h2.4V673.0h-2.4zM379.3 697.0h2.4V700.0h-2.4zM382.3 671.6h2.4V697.0h-2.4zM388.3 656.0h2.4V688.0h-2.4zM392.3 650.7h2.4V656.0h-2.4zM395.3 637.0h2.4V650.7h-2.4zM404.3 668.0h2.4V670.0h-2.4zM408.3 652.0h2.4V670.0h-2.4zM414.3 647.5h2.4V655.5h-2.4zM420.3 654.0h2.4V657.0h-2.4zM424.3 642.6h2.4V654.0h-2.4zM430.3 637.7h2.4V644.1h-2.4zM433.3 634.4h2.4V639.3h-2.4zM436.3 626.4h2.4V634.4h-2.4zM452.3 642.5h2.4V650.5h-2.4zM456.3 639.3h2.4V642.5h-2.4zM475.3 656.9h2.4V676.2h-2.4zM478.3 653.7h2.4V656.9h-2.4zM481.3 652.1h2.4V655.3h-2.4zM484.3 645.7h2.4V652.1h-2.4zM488.3 635.2h2.4V645.7h-2.4zM494.3 643.3h2.4V648.9h-2.4zM497.3 642.5h2.4V644.1h-2.4zM500.3 632.0h2.4V644.1h-2.4zM504.3 616.8h2.4V632.0h-2.4zM507.3 614.4h2.4V616.8h-2.4zM513.3 611.9h2.4V615.2h-2.4zM519.3 620.0h2.4V623.2h-2.4zM523.3 607.9h2.4V621.6h-2.4zM526.3 607.1h2.4V608.7h-2.4zM535.3 617.6h2.4V619.2h-2.4zM558.3 632.8h2.4V653.7h-2.4zM564.3 631.2h2.4V648.9h-2.4zM571.3 640.9h2.4V643.3h-2.4zM577.3 651.3h2.4V662.6h-2.4zM580.3 640.9h2.4V652.1h-2.4zM583.3 639.3h2.4V641.7h-2.4zM596.3 642.5h2.4V645.7h-2.4zM599.3 629.6h2.4V642.5h-2.4zM615.3 645.7h2.4V653.7h-2.4zM619.3 644.1h2.4V646.5h-2.4zM622.3 636.0h2.4V645.7h-2.4zM625.3 623.2h2.4V637.7h-2.4zM631.3 631.2h2.4V634.4h-2.4zM635.3 624.8h2.4V631.2h-2.4zM638.3 622.9h2.4V624.8h-2.4zM651.3 611.1h2.4V632.0h-2.4zM654.3 595.9h2.4V611.1h-2.4zM670.3 624.0h2.4V653.7h-2.4zM676.3 621.6h2.4V629.6h-2.4zM679.3 615.2h2.4V623.2h-2.4zM686.3 611.9h2.4V626.4h-2.4zM689.3 608.7h2.4V616.8h-2.4zM695.3 611.1h2.4V620.0h-2.4zM699.3 609.5h2.4V613.6h-2.4zM702.3 606.3h2.4V611.1h-2.4zM705.3 600.7h2.4V608.7h-2.4zM708.3 596.7h2.4V600.7h-2.4zM724.3 645.7h2.4V652.1h-2.4zM731.3 656.9h2.4V673.8h-2.4zM740.3 663.4h2.4V671.4h-2.4zM747.3 647.3h2.4V666.6h-2.4zM750.3 645.7h2.4V648.1h-2.4zM753.3 635.2h2.4V645.7h-2.4zM756.3 632.0h2.4V642.5h-2.4zM763.3 632.8h2.4V636.0h-2.4zM769.3 631.2h2.4V633.6h-2.4zM775.3 630.4h2.4V632.0h-2.4zM782.3 626.4h2.4V636.0h-2.4zM798.3 638.5h2.4V640.9h-2.4zM801.3 635.2h2.4V639.3h-2.4zM811.3 640.1h2.4V644.1h-2.4zM814.3 632.8h2.4V639.3h-2.4zM817.3 629.6h2.4V632.8h-2.4zM820.3 626.4h2.4V629.6h-2.4zM827.3 617.9h2.4V624.4h-2.4zM830.3 614.0h2.4V619.2h-2.4zM839.3 612.7h2.4V619.2h-2.4zM846.3 613.3h2.4V619.2h-2.4zM849.3 605.5h2.4V613.3h-2.4zM862.3 615.3h2.4V619.2h-2.4zM865.3 610.1h2.4V616.6h-2.4zM868.3 596.4h2.4V610.7h-2.4zM871.3 591.1h2.4V597.0h-2.4zM875.3 584.6h2.4V591.1h-2.4zM878.3 569.6h2.4V586.6h-2.4zM881.3 554.6h2.4V582.7h-2.4zM884.3 551.3h2.4V553.3h-2.4zM887.3 534.4h2.4V551.3h-2.4zM903.3 544.8h2.4V551.3h-2.4zM907.3 544.8h2.4V546.1h-2.4zM910.3 543.5h2.4V546.1h-2.4zM913.3 540.9h2.4V543.5h-2.4zM916.3 534.4h2.4V541.5h-2.4zM919.3 527.8h2.4V534.4h-2.4zM923.3 521.3h2.4V529.1h-2.4zM926.3 520.0h2.4V522.9h-2.4zM929.3 510.1h2.4V523.1h-2.4zM932.3 508.8h2.4V514.0h-2.4zM939.3 503.6h2.4V512.7h-2.4zM942.3 498.3h2.4V504.9h-2.4zM948.3 498.3h2.4V506.2h-2.4zM958.3 515.3h2.4V524.4h-2.4zM967.3 512.7h2.4V521.8h-2.4zM974.3 506.2h2.4V515.3h-2.4zM980.3 499.6h2.4V512.7h-2.4zM983.3 493.1h2.4V499.6h-2.4zM987.3 490.5h2.4V493.1h-2.4zM993.3 486.6h2.4V507.5h-2.4zM999.3 484.0h2.4V489.2h-2.4zM1003.3 474.8h2.4V485.3h-2.4zM1006.3 469.6h2.4V474.8h-2.4zM1015.3 470.3h2.4V474.2h-2.4zM1019.3 450.0h2.4V470.3h-2.4zM1028.3 450.7h2.4V458.5h-2.4zM1038.3 457.9h2.4V460.5h-2.4zM1041.3 455.9h2.4V459.2h-2.4zM1044.3 453.9h2.4V456.6h-2.4zM1057.3 458.5h2.4V468.8h-2.4zM1060.3 447.0h2.4V458.5h-2.4zM1063.3 437.2h2.4V447.0h-2.4zM1073.3 449.1h2.4V450.8h-2.4zM1079.3 459.4h2.4V461.5h-2.4zM1086.3 457.7h2.4V467.9h-2.4zM1089.3 454.7h2.4V456.8h-2.4zM1092.3 450.8h2.4V453.4h-2.4zM1095.3 448.7h2.4V451.7h-2.4zM1102.3 451.3h2.4V455.1h-2.4zM1105.3 451.7h2.4V453.0h-2.4zM1118.3 450.0h2.4V461.9h-2.4zM1124.3 438.9h2.4V451.3h-2.4zM1127.3 437.6h2.4V439.7h-2.4zM1131.3 428.7h2.4V437.6h-2.4zM1140.3 450.0h2.4V453.4h-2.4zM1163.3 473.9h2.4V482.4h-2.4zM1169.3 469.6h2.4V480.5h-2.4zM1172.3 463.6h2.4V474.5h-2.4zM1195.3 479.3h2.4V484.1h-2.4zM1201.3 470.8h2.4V491.3h-2.4zM1207.3 450.4h2.4V475.7h-2.4zM1211.3 448.0h2.4V452.8h-2.4zM1217.3 445.5h2.4V452.8h-2.4zM1220.3 426.3h2.4V446.7h-2.4zM1223.3 425.1h2.4V427.5h-2.4zM1227.3 409.4h2.4V426.3h-2.4zM1230.3 396.1h2.4V409.4h-2.4zM1233.3 390.1h2.4V397.3h-2.4zM1236.3 375.7h2.4V390.1h-2.4zM1243.3 373.3h2.4V382.9h-2.4zM1249.3 373.3h2.4V384.1h-2.4zM1255.3 378.1h2.4V382.9h-2.4zM1259.3 375.7h2.4V378.1h-2.4zM1262.3 348.0h2.4V375.7h-2.4zM1268.3 291.3h2.4V358.8h-2.4zM1275.3 299.8h2.4V317.8h-2.4zM1278.3 293.7h2.4V301.0h-2.4zM1294.3 328.0h2.4V336.8h-2.4zM1297.3 315.8h2.4V328.0h-2.4zM1313.3 339.0h2.4V349.0h-2.4zM1319.3 322.4h2.4V349.0h-2.4zM1326.3 323.5h2.4V326.9h-2.4zM1335.3 339.0h2.4V342.3h-2.4zM1342.3 324.6h2.4V347.8h-2.4zM1345.3 292.6h2.4V324.6h-2.4zM1348.3 250.6h2.4V292.6h-2.4zM1351.3 213.0h2.4V250.6h-2.4zM1358.3 206.4h2.4V213.0h-2.4zM1361.3 190.9h2.4V206.4h-2.4zM1364.3 190.9h2.4V194.3h-2.4zM1367.3 189.8h2.4V192.0h-2.4zM1374.3 211.9h2.4V217.5h-2.4zM1383.3 263.9h2.4V270.5h-2.4zM1409.3 360.6h2.4V368.7h-2.4zM1415.3 340.7h2.4V366.9h-2.4zM1422.3 334.4h2.4V350.6h-2.4zM1428.3 347.0h2.4V356.1h-2.4zM1441.3 377.8h2.4V395.8h-2.4zM1444.3 364.2h2.4V377.8h-2.4zM1451.3 359.7h2.4V382.3h-2.4zM1454.3 357.0h2.4V360.6h-2.4zM1460.3 346.1h2.4V370.5h-2.4zM1463.3 337.1h2.4V347.0h-2.4zM1470.3 378.7h2.4V403.1h-2.4zM1473.3 348.8h2.4V379.6h-2.4zM1479.3 326.2h2.4V358.8h-2.4zM1486.3 312.7h2.4V364.2h-2.4zM1489.3 301.1h2.4V313.1h-2.4zM1492.3 291.3h2.4V302.5h-2.4zM1495.3 270.2h2.4V292.0h-2.4zM1505.3 283.5h2.4V284.9h-2.4zM1508.3 280.0h2.4V283.5h-2.4zM1511.3 266.7h2.4V280.0h-2.4zM1515.3 264.5h2.4V267.4h-2.4zM1521.3 271.6h2.4V286.3h-2.4zM1524.3 266.7h2.4V272.3h-2.4zM1527.3 249.8h2.4V267.4h-2.4zM1531.3 232.9h2.4V250.5h-2.4zM1537.3 246.3h2.4V251.9h-2.4zM1543.3 249.8h2.4V256.1h-2.4zM1553.3 235.0h2.4V259.6h-2.4zM1556.3 233.6h2.4V236.4h-2.4zM1559.3 231.5h2.4V233.6h-2.4zM1563.3 228.0h2.4V232.2h-2.4zM1566.3 213.2h2.4V227.3h-2.4zM1585.3 265.1h2.4V266.0h-2.4zM1591.3 260.1h2.4V268.7h-2.4zM1601.3 254.3h2.4V264.2h-2.4zM1607.3 258.3h2.4V271.9h-2.4zM1611.3 256.5h2.4V258.3h-2.4zM1617.3 249.3h2.4V259.2h-2.4zM1633.3 277.3h2.4V279.6h-2.4zM1636.3 269.2h2.4V277.3h-2.4zM1643.3 271.4h2.4V272.3h-2.4zM1646.3 271.0h2.4V271.9h-2.4zM1652.3 267.8h2.4V275.0h-2.4zM1655.3 251.1h2.4V267.8h-2.4zM1659.3 246.6h2.4V251.1h-2.4zM1665.3 251.6h2.4V254.3h-2.4zM1675.3 254.3h2.4V261.5h-2.4zM1678.3 253.4h2.4V254.3h-2.4zM1681.3 249.7h2.4V253.4h-2.4zM1684.3 247.0h2.4V249.7h-2.4zM1687.3 246.6h2.4V247.9h-2.4zM1691.3 244.3h2.4V247.9h-2.4zM1694.3 240.7h2.4V244.3h-2.4zM1697.3 238.0h2.4V241.6h-2.4zM1700.3 232.5h2.4V239.2h-2.4zM1710.3 237.8h2.4V241.3h-2.4zM1713.3 233.2h2.4V237.8h-2.4zM1719.3 238.5h2.4V239.9h-2.4zM1723.3 230.8h2.4V239.2h-2.4zM1729.3 232.5h2.4V233.2h-2.4zM1732.3 228.3h2.4V232.5h-2.4zM1735.3 218.1h2.4V228.3h-2.4zM1751.3 229.4h2.4V230.1h-2.4zM1755.3 224.8h2.4V231.5h-2.4zM1758.3 220.2h2.4V224.4h-2.4zM1767.3 223.0h2.4V223.7h-2.4zM1774.3 223.4h2.4V225.9h-2.4zM1790.3 225.9h2.4V227.3h-2.4zM1793.3 215.7h2.4V224.4h-2.4zM1799.3 207.2h2.4V216.4h-2.4zM1806.3 211.1h2.4V212.5h-2.4zM1812.3 208.3h2.4V213.9h-2.4zM1815.3 210.5h2.4V211.8h-2.4zM1819.3 209.9h2.4V211.2h-2.4zM1828.3 220.3h2.4V221.6h-2.4zM1831.3 192.9h2.4V221.6h-2.4zM1835.3 187.7h2.4V194.9h-2.4zM1841.3 187.7h2.4V192.9h-2.4zM1844.3 167.4h2.4V187.0h-2.4zM1847.3 153.7h2.4V167.4h-2.4zM1851.3 147.9h2.4V153.7h-2.4zM1857.3 143.9h2.4V149.2h-2.4zM1863.3 128.9h2.4V156.3h-2.4z" fill="#1f9f88"/>
<path d="M5.5 652.9V669.9M12.5 683.1V691.1M21.5 671.5V676.3M28.5 669.8V674.2M31.5 670.0V677.8M34.5 672.8V679.7M44.5 661.4V669.8M50.5 660.1V669.5M56.5 654.1V665.4M66.5 653.7V673.0M69.5 669.6V687.8M72.5 685.3V695.3M76.5 689.7V709.0M79.5 698.0V706.9M85.5 698.7V707.7M101.5 679.7V686.6M104.5 684.3V692.9M108.5 687.3V706.6M111.5 701.9V707.2M114.5 705.2V717.0M120.5 697.4V710.2M140.5 680.8V687.4M143.5 684.6V692.9M146.5 688.7V697.6M149.5 694.7V714.0M156.5 697.0V708.0M165.5 689.7V697.1M172.5 689.8V693.2M178.5 681.9V692.9M188.5 681.8V690.9M191.5 684.8V696.1M194.5 693.2V697.4M210.5 666.3V676.3M213.5 671.6V679.9M223.5 660.0V670.1M226.5 664.9V720.0M229.5 690.8V702.2M242.5 689.0V693.8M249.5 681.5V691.7M252.5 687.7V692.7M255.5 686.5V698.2M258.5 693.4V699.0M261.5 691.1V702.1M264.5 696.0V704.9M268.5 701.5V714.0M274.5 699.0V703.1M277.5 700.4V705.7M293.5 682.4V697.2M296.5 691.0V699.0M306.5 689.8V697.7M309.5 694.6V701.5M316.5 685.1V694.6M319.5 688.5V693.0M322.5 688.2V697.7M325.5 692.0V698.5M329.5 695.3V710.1M345.5 694.2V707.6M348.5 703.5V728.6M357.5 703.4V726.0M370.5 667.0V676.8M373.5 674.4V690.0M377.5 687.8V704.5M386.5 668.9V688.6M399.5 626.0V659.8M402.5 656.3V671.3M412.5 650.9V657.0M418.5 644.6V658.7M428.5 626.4V646.8M441.5 618.4V638.9M444.5 631.7V653.7M447.5 632.4V642.5M450.5 638.5V651.1M460.5 638.2V646.7M463.5 642.1V656.5M466.5 653.6V659.2M469.5 656.2V669.3M473.5 663.9V680.2M492.5 634.5V649.8M511.5 611.1V618.4M517.5 611.0V633.6M530.5 603.9V613.6M533.5 603.1V621.3M540.5 611.1V621.4M543.5 617.9V629.7M546.5 625.7V645.4M549.5 635.2V650.3M552.5 645.0V653.2M556.5 648.2V657.7M562.5 633.7V651.4M568.5 630.6V652.1M575.5 636.6V664.1M588.5 636.0V650.5M591.5 634.4V650.5M594.5 642.0V647.2M604.5 627.3V634.9M607.5 629.8V638.7M610.5 632.1V647.2M613.5 643.4V656.9M629.5 620.0V636.4M642.5 617.6V629.6M645.5 621.6V637.7M648.5 620.0V632.8M658.5 585.4V607.7M661.5 597.5V621.6M664.5 616.7V650.5M668.5 642.1V657.7M674.5 621.6V636.8M684.5 611.1V630.4M693.5 605.9V623.2M712.5 595.3V640.3M716.5 637.7V652.1M719.5 640.9V653.7M722.5 642.5V660.1M728.5 644.1V674.6M735.5 655.4V673.0M738.5 664.6V676.2M744.5 658.5V667.4M760.5 629.6V639.3M767.5 628.8V637.7M773.5 629.6V636.0M780.5 627.1V637.6M786.5 627.0V636.7M789.5 631.2V639.3M792.5 632.3V646.5M796.5 638.4V643.8M805.5 635.4V643.6M808.5 638.7V645.6M824.5 621.4V630.7M834.5 612.5V619.4M837.5 614.1V623.1M844.5 610.1V619.6M853.5 603.8V613.7M856.5 610.5V615.8M860.5 612.6V619.5M892.5 529.8V546.1M895.5 541.4V548.9M898.5 540.9V547.4M901.5 545.4V555.2M936.5 504.9V514.0M946.5 495.7V508.8M952.5 495.7V516.6M956.5 510.6V536.2M962.5 510.1V521.5M965.5 517.2V534.9M972.5 510.3V521.8M978.5 502.2V516.6M991.5 487.7V508.8M997.5 484.0V491.1M1010.5 464.4V472.2M1013.5 465.1V476.6M1023.5 446.9V453.3M1026.5 450.8V460.1M1032.5 440.9V450.7M1036.5 445.5V463.0M1048.5 451.7V459.4M1052.5 455.5V466.5M1055.5 460.2V471.7M1068.5 435.5V442.3M1071.5 436.8V454.2M1077.5 446.4V464.5M1084.5 457.1V473.4M1100.5 449.0V461.5M1109.5 447.4V456.0M1112.5 447.8V460.0M1116.5 455.1V465.3M1122.5 443.2V453.4M1135.5 427.3V441.7M1138.5 437.2V454.9M1144.5 449.6V461.5M1148.5 453.4V465.0M1151.5 456.8V466.2M1154.5 461.1V470.5M1157.5 461.9V469.0M1160.5 464.1V484.2M1167.5 470.4V484.5M1176.5 460.0V469.7M1180.5 460.0V472.4M1183.5 464.3V475.8M1186.5 471.0V481.3M1189.5 475.3V484.9M1192.5 480.5V488.3M1199.5 479.5V497.3M1205.5 469.6V476.9M1215.5 447.2V453.6M1240.5 372.0V391.3M1247.5 372.0V385.3M1253.5 363.6V382.6M1266.5 329.9V392.5M1272.5 278.1V320.4M1282.5 283.8V319.7M1285.5 314.5V332.6M1288.5 327.4V339.0M1292.5 331.4V342.3M1301.5 312.5V320.3M1304.5 308.1V328.0M1308.5 322.4V339.7M1311.5 335.3V349.4M1317.5 336.5V350.1M1324.5 316.9V328.4M1330.5 321.9V337.8M1333.5 328.0V343.4M1340.5 336.1V348.6M1356.5 178.8V226.3M1372.5 185.4V219.7M1378.5 204.2V217.4M1381.5 207.5V271.5M1388.5 257.2V271.2M1391.5 269.7V277.7M1394.5 274.1V309.9M1397.5 314.5V339.8M1400.5 319.9V361.5M1404.5 347.9V374.1M1407.5 356.0V374.1M1413.5 361.4V379.6M1420.5 330.7V362.4M1426.5 327.1V360.5M1432.5 337.9V378.7M1436.5 355.2V393.1M1439.5 354.2V402.2M1448.5 364.4V385.0M1458.5 344.3V375.0M1468.5 333.5V473.6M1477.5 342.5V375.9M1484.5 310.8V367.1M1500.5 258.9V281.4M1503.5 266.7V292.7M1519.5 259.6V296.9M1535.5 231.8V254.7M1541.5 241.3V258.9M1548.5 247.7V267.4M1551.5 254.0V264.5M1570.5 209.7V221.8M1573.5 217.5V254.0M1576.5 246.2V254.7M1580.5 249.9V264.9M1583.5 260.1V274.4M1589.5 260.6V272.3M1596.5 257.0V264.9M1599.5 260.4V269.2M1605.5 252.3V274.3M1615.5 246.4V261.0M1621.5 247.0V264.2M1624.5 254.3V271.4M1628.5 264.5V280.5M1631.5 272.3V284.1M1640.5 266.5V276.8M1650.5 267.7V282.3M1663.5 243.4V255.7M1669.5 247.9V255.6M1672.5 244.8V258.4M1704.5 228.3V238.5M1708.5 232.0V243.5M1717.5 230.9V242.0M1727.5 226.2V237.6M1740.5 215.7V225.2M1743.5 220.9V227.5M1746.5 220.2V230.7M1749.5 228.0V230.4M1762.5 221.2V232.2M1765.5 220.9V232.9M1772.5 219.5V235.7M1778.5 222.3V235.3M1781.5 223.0V225.9M1784.5 224.4V232.9M1788.5 220.2V230.1M1797.5 205.1V221.6M1804.5 204.9V216.4M1810.5 209.7V215.9M1823.5 207.3V220.3M1826.5 217.0V229.5M1839.5 177.9V196.6M1855.5 145.6V159.6M1861.5 137.6V164.8M1868.5 128.3V156.4" stroke="#ea7a76" stroke-width="1" fill="none"/>
<path d="M4.3 654.0h2.4V669.0h-2.4zM11.3 684.0h2.4V689.0h-2.4zM20.3 672.0h2.4V674.0h-2.4zM27.3 672.0h2.4V674.0h-2.4zM30.3 673.0h2.4V675.0h-2.4zM33.3 673.0h2.4V677.0h-2.4zM43.3 663.0h2.4V667.0h-2.4zM49.3 663.0h2.4V667.0h-2.4zM55.3 656.0h2.4V664.0h-2.4zM65.3 655.0h2.4V671.0h-2.4zM68.3 671.0h2.4V687.0h-2.4zM71.3 687.0h2.4V694.0h-2.4zM75.3 692.0h2.4V702.0h-2.4zM78.3 701.0h2.4V704.0h-2.4zM84.3 699.0h2.4V705.0h-2.4zM100.3 682.0h2.4V686.0h-2.4zM103.3 685.0h2.4V690.0h-2.4zM107.3 690.0h2.4V704.0h-2.4zM110.3 702.0h2.4V707.0h-2.4zM113.3 706.0h2.4V711.0h-2.4zM119.3 699.0h2.4V710.0h-2.4zM139.3 681.0h2.4V687.0h-2.4zM142.3 687.0h2.4V691.0h-2.4zM145.3 691.0h2.4V697.0h-2.4zM148.3 696.0h2.4V710.0h-2.4zM155.3 699.0h2.4V705.0h-2.4zM164.3 691.0h2.4V696.0h-2.4zM171.3 690.0h2.4V693.0h-2.4zM177.3 684.0h2.4V692.0h-2.4zM187.3 682.0h2.4V690.0h-2.4zM190.3 687.0h2.4V694.0h-2.4zM193.3 694.0h2.4V697.0h-2.4zM209.3 669.0h2.4V675.0h-2.4zM212.3 674.0h2.4V679.0h-2.4zM222.3 664.0h2.4V669.0h-2.4zM225.3 666.0h2.4V692.0h-2.4zM228.3 692.0h2.4V701.0h-2.4zM241.3 690.0h2.4V692.0h-2.4zM248.3 684.0h2.4V691.0h-2.4zM251.3 689.0h2.4V692.0h-2.4zM254.3 689.0h2.4V696.0h-2.4zM257.3 694.0h2.4V696.0h-2.4zM260.3 694.0h2.4V700.0h-2.4zM263.3 698.0h2.4V704.0h-2.4zM267.3 702.0h2.4V707.0h-2.4zM273.3 700.0h2.4V702.0h-2.4zM276.3 701.0h2.4V704.0h-2.4zM292.3 684.0h2.4V696.0h-2.4zM295.3 694.0h2.4V696.0h-2.4zM305.3 691.0h2.4V697.0h-2.4zM308.3 697.0h2.4V700.0h-2.4zM315.3 688.0h2.4V692.0h-2.4zM318.3 689.0h2.4V692.0h-2.4zM321.3 691.0h2.4V696.0h-2.4zM324.3 695.0h2.4V697.0h-2.4zM328.3 696.0h2.4V708.0h-2.4zM344.3 695.0h2.4V707.0h-2.4zM347.3 706.0h2.4V724.6h-2.4zM356.3 705.0h2.4V708.5h-2.4zM369.3 672.0h2.4V676.0h-2.4zM372.3 676.0h2.4V689.0h-2.4zM376.3 689.0h2.4V700.0h-2.4zM385.3 671.6h2.4V687.6h-2.4zM398.3 635.4h2.4V658.7h-2.4zM401.3 658.7h2.4V670.0h-2.4zM411.3 652.0h2.4V655.0h-2.4zM417.3 647.5h2.4V657.0h-2.4zM427.3 642.5h2.4V645.7h-2.4zM440.3 626.4h2.4V636.0h-2.4zM443.3 634.4h2.4V637.7h-2.4zM446.3 634.4h2.4V640.9h-2.4zM449.3 639.3h2.4V650.5h-2.4zM459.3 639.3h2.4V644.1h-2.4zM462.3 644.1h2.4V655.3h-2.4zM465.3 654.5h2.4V656.9h-2.4zM468.3 656.9h2.4V668.2h-2.4zM472.3 665.8h2.4V677.8h-2.4zM491.3 635.2h2.4V648.9h-2.4zM510.3 613.6h2.4V615.2h-2.4zM516.3 611.9h2.4V623.2h-2.4zM529.3 607.1h2.4V608.7h-2.4zM532.3 607.9h2.4V618.4h-2.4zM539.3 617.6h2.4V620.8h-2.4zM542.3 620.0h2.4V628.0h-2.4zM545.3 628.0h2.4V644.1h-2.4zM548.3 640.9h2.4V647.3h-2.4zM551.3 645.7h2.4V651.3h-2.4zM555.3 650.5h2.4V653.7h-2.4zM561.3 636.0h2.4V648.9h-2.4zM567.3 632.8h2.4V640.9h-2.4zM574.3 639.3h2.4V662.6h-2.4zM587.3 638.5h2.4V640.9h-2.4zM590.3 639.3h2.4V644.1h-2.4zM593.3 644.1h2.4V645.7h-2.4zM603.3 628.0h2.4V632.8h-2.4zM606.3 632.8h2.4V636.0h-2.4zM609.3 634.4h2.4V645.7h-2.4zM612.3 645.7h2.4V653.7h-2.4zM628.3 624.8h2.4V634.4h-2.4zM641.3 622.4h2.4V628.0h-2.4zM644.3 626.4h2.4V629.6h-2.4zM647.3 627.2h2.4V630.4h-2.4zM657.3 595.9h2.4V605.5h-2.4zM660.3 603.9h2.4V618.4h-2.4zM663.3 618.4h2.4V644.1h-2.4zM667.3 644.1h2.4V653.7h-2.4zM673.3 624.0h2.4V629.6h-2.4zM683.3 613.6h2.4V626.4h-2.4zM692.3 608.7h2.4V620.0h-2.4zM711.3 597.5h2.4V639.3h-2.4zM715.3 639.3h2.4V648.9h-2.4zM718.3 644.1h2.4V650.5h-2.4zM721.3 647.3h2.4V652.1h-2.4zM727.3 648.1h2.4V673.0h-2.4zM734.3 656.9h2.4V669.8h-2.4zM737.3 666.6h2.4V673.0h-2.4zM743.3 661.7h2.4V666.6h-2.4zM759.3 632.0h2.4V635.2h-2.4zM766.3 632.0h2.4V633.6h-2.4zM772.3 631.2h2.4V632.8h-2.4zM779.3 628.0h2.4V636.0h-2.4zM785.3 628.0h2.4V635.2h-2.4zM788.3 632.8h2.4V636.0h-2.4zM791.3 634.4h2.4V642.5h-2.4zM795.3 640.1h2.4V642.5h-2.4zM804.3 636.0h2.4V640.9h-2.4zM807.3 639.3h2.4V643.3h-2.4zM823.3 624.0h2.4V629.6h-2.4zM833.3 614.6h2.4V617.3h-2.4zM836.3 616.6h2.4V618.6h-2.4zM843.3 613.3h2.4V618.6h-2.4zM852.3 605.5h2.4V611.4h-2.4zM855.3 611.4h2.4V614.6h-2.4zM859.3 614.0h2.4V617.3h-2.4zM891.3 534.4h2.4V544.2h-2.4zM894.3 543.5h2.4V546.1h-2.4zM897.3 543.5h2.4V546.1h-2.4zM900.3 546.8h2.4V551.3h-2.4zM935.3 507.5h2.4V511.4h-2.4zM945.3 498.3h2.4V507.5h-2.4zM951.3 497.0h2.4V511.4h-2.4zM955.3 512.7h2.4V524.4h-2.4zM961.3 515.3h2.4V520.5h-2.4zM964.3 519.9h2.4V521.8h-2.4zM971.3 513.3h2.4V515.3h-2.4zM977.3 506.8h2.4V512.7h-2.4zM990.3 490.5h2.4V506.2h-2.4zM996.3 485.3h2.4V487.9h-2.4zM1009.3 469.0h2.4V470.3h-2.4zM1012.3 467.0h2.4V474.2h-2.4zM1022.3 449.4h2.4V452.6h-2.4zM1025.3 453.3h2.4V459.2h-2.4zM1031.3 443.5h2.4V448.1h-2.4zM1035.3 452.0h2.4V460.5h-2.4zM1047.3 452.5h2.4V457.7h-2.4zM1051.3 457.7h2.4V463.6h-2.4zM1054.3 461.9h2.4V468.8h-2.4zM1067.3 438.0h2.4V439.7h-2.4zM1070.3 438.0h2.4V451.7h-2.4zM1076.3 448.7h2.4V462.4h-2.4zM1083.3 458.9h2.4V466.2h-2.4zM1099.3 450.0h2.4V458.9h-2.4zM1108.3 449.1h2.4V454.2h-2.4zM1111.3 453.4h2.4V458.1h-2.4zM1115.3 458.5h2.4V460.2h-2.4zM1121.3 449.6h2.4V450.8h-2.4zM1134.3 429.1h2.4V440.2h-2.4zM1137.3 439.7h2.4V453.0h-2.4zM1143.3 451.3h2.4V458.5h-2.4zM1147.3 456.0h2.4V462.8h-2.4zM1150.3 462.8h2.4V464.5h-2.4zM1153.3 464.5h2.4V467.0h-2.4zM1156.3 466.2h2.4V468.3h-2.4zM1159.3 467.9h2.4V482.4h-2.4zM1166.3 473.3h2.4V481.7h-2.4zM1175.3 463.6h2.4V467.2h-2.4zM1179.3 464.8h2.4V469.6h-2.4zM1182.3 466.0h2.4V474.5h-2.4zM1185.3 472.0h2.4V479.3h-2.4zM1188.3 478.1h2.4V484.1h-2.4zM1191.3 482.9h2.4V487.7h-2.4zM1198.3 480.5h2.4V492.5h-2.4zM1204.3 472.0h2.4V475.7h-2.4zM1214.3 449.2h2.4V452.8h-2.4zM1239.3 375.7h2.4V382.9h-2.4zM1246.3 374.5h2.4V382.9h-2.4zM1252.3 372.0h2.4V380.5h-2.4zM1265.3 349.2h2.4V358.8h-2.4zM1271.3 292.5h2.4V317.8h-2.4zM1281.3 292.6h2.4V316.9h-2.4zM1284.3 315.8h2.4V331.3h-2.4zM1287.3 330.2h2.4V334.6h-2.4zM1291.3 332.4h2.4V336.8h-2.4zM1300.3 314.7h2.4V318.0h-2.4zM1303.3 314.7h2.4V323.5h-2.4zM1307.3 323.5h2.4V339.0h-2.4zM1310.3 337.9h2.4V347.8h-2.4zM1316.3 339.0h2.4V346.7h-2.4zM1323.3 322.4h2.4V326.9h-2.4zM1329.3 322.4h2.4V336.8h-2.4zM1332.3 334.6h2.4V341.2h-2.4zM1339.3 339.0h2.4V347.8h-2.4zM1355.3 211.9h2.4V215.2h-2.4zM1371.3 190.9h2.4V217.5h-2.4zM1377.3 207.5h2.4V215.2h-2.4zM1380.3 214.1h2.4V270.5h-2.4zM1387.3 262.8h2.4V270.5h-2.4zM1390.3 270.5h2.4V277.1h-2.4zM1393.3 276.0h2.4V308.1h-2.4zM1396.3 327.1h2.4V329.8h-2.4zM1399.3 329.8h2.4V357.9h-2.4zM1403.3 357.9h2.4V369.6h-2.4zM1406.3 357.9h2.4V369.6h-2.4zM1412.3 362.4h2.4V365.1h-2.4zM1419.3 340.7h2.4V348.8h-2.4zM1425.3 334.4h2.4V357.9h-2.4zM1431.3 340.7h2.4V363.3h-2.4zM1435.3 362.4h2.4V365.1h-2.4zM1438.3 364.2h2.4V394.9h-2.4zM1447.3 365.1h2.4V383.2h-2.4zM1457.3 356.1h2.4V370.5h-2.4zM1467.3 336.2h2.4V398.6h-2.4zM1476.3 350.6h2.4V359.7h-2.4zM1483.3 326.2h2.4V365.1h-2.4zM1499.3 270.2h2.4V276.5h-2.4zM1502.3 276.5h2.4V286.3h-2.4zM1518.3 265.2h2.4V286.3h-2.4zM1534.3 233.6h2.4V251.2h-2.4zM1540.3 245.6h2.4V255.4h-2.4zM1547.3 251.2h2.4V258.9h-2.4zM1550.3 258.2h2.4V259.6h-2.4zM1569.3 213.2h2.4V219.5h-2.4zM1572.3 220.2h2.4V251.9h-2.4zM1575.3 247.7h2.4V251.9h-2.4zM1579.3 251.9h2.4V263.1h-2.4zM1582.3 263.1h2.4V266.7h-2.4zM1588.3 265.1h2.4V268.7h-2.4zM1595.3 259.7h2.4V262.4h-2.4zM1598.3 261.5h2.4V264.7h-2.4zM1604.3 254.7h2.4V271.9h-2.4zM1614.3 247.9h2.4V258.3h-2.4zM1620.3 248.4h2.4V259.2h-2.4zM1623.3 259.7h2.4V266.9h-2.4zM1627.3 266.9h2.4V276.4h-2.4zM1630.3 276.4h2.4V277.8h-2.4zM1639.3 268.7h2.4V272.3h-2.4zM1649.3 270.1h2.4V275.0h-2.4zM1662.3 246.6h2.4V254.3h-2.4zM1668.3 250.7h2.4V252.5h-2.4zM1671.3 252.0h2.4V257.9h-2.4zM1703.3 232.9h2.4V235.7h-2.4zM1707.3 233.9h2.4V241.7h-2.4zM1716.3 233.2h2.4V239.2h-2.4zM1726.3 230.8h2.4V234.6h-2.4zM1739.3 218.1h2.4V223.7h-2.4zM1742.3 223.0h2.4V226.9h-2.4zM1745.3 226.6h2.4V229.7h-2.4zM1748.3 229.0h2.4V230.1h-2.4zM1761.3 222.3h2.4V231.5h-2.4zM1764.3 221.6h2.4V222.3h-2.4zM1771.3 222.7h2.4V225.1h-2.4zM1777.3 223.7h2.4V224.4h-2.4zM1780.3 224.4h2.4V225.1h-2.4zM1783.3 225.9h2.4V226.6h-2.4zM1787.3 226.6h2.4V227.3h-2.4zM1796.3 216.0h2.4V217.4h-2.4zM1803.3 207.9h2.4V214.3h-2.4zM1809.3 210.4h2.4V213.9h-2.4zM1822.3 209.2h2.4V219.7h-2.4zM1825.3 219.7h2.4V221.6h-2.4zM1838.3 187.7h2.4V194.9h-2.4zM1854.3 147.2h2.4V149.2h-2.4zM1860.3 139.4h2.4V156.3h-2.4zM1867.3 128.9h2.4V154.4h-2.4z" fill="#e0524e"/>
<text x="668" y="567" font-size="10" fill="#3a8f3a" text-anchor="middle">44661</text>
<text x="742.7" y="709.6" font-size="10" fill="#e0303a" text-anchor="middle">13719</text>
<text x="1382" y="146.8" font-size="10" fill="#3a8f3a" text-anchor="middle">76431</text>
<text x="1481" y="508.8" font-size="10" fill="#e0303a" text-anchor="middle">24641</text>
<text x="1580" y="184.2" font-size="10" fill="#3a8f3a" text-anchor="middle">23483</text>
<text x="1641.5" y="319.8" font-size="10" fill="#e0303a" text-anchor="middle">8108</text>
<defs><linearGradient id="ag" x1="0" x2="1" y1="0" y2="0"><stop offset="0" stop-color="#4a8ed8"/><stop offset="0.5" stop-color="#78c2f2"/><stop offset="1" stop-color="#5aa2e2"/></linearGradient></defs>
<path d="M746.5 808 H752.5 V934 L756.5 920 L749.5 961 L742.5 920 L746.5 934 Z" fill="url(#ag)" stroke="#000" stroke-width="1" stroke-linejoin="miter"/>
<path d="M1375.5 765.5 H1381.5 V904 L1386 890 L1378.5 936.5 L1371 890 L1375.5 904 Z" fill="url(#ag)" stroke="#000" stroke-width="1" stroke-linejoin="miter"/>
</svg>
<div class="fa" style="left:607.4px;top:712px;width:300px;font-size:34px;text-align:center;transform:scaleX(0.925)">آغاز روند صعودی</div>
<div class="fa" style="left:554px;top:752px;width:400px;font-size:33.5px;text-align:center;transform:scaleX(0.94)">افزایش حجم معاملات خرید</div>
<div class="fa" style="left:1238.5px;top:707.5px;width:300px;font-size:35px;text-align:center;transform:scaleX(0.915)">انتهای روند صعودی</div>
<div class="fa" style="left:1540px;top:10px;width:127px;font-family:&quot;Reem Kufi&quot;,Vazirmatn,&quot;DejaVu Sans&quot;,sans-serif;font-size:19.8px;font-weight:400;color:#606060;text-align:right">تریدینگ فایندر</div>
</body></html>
